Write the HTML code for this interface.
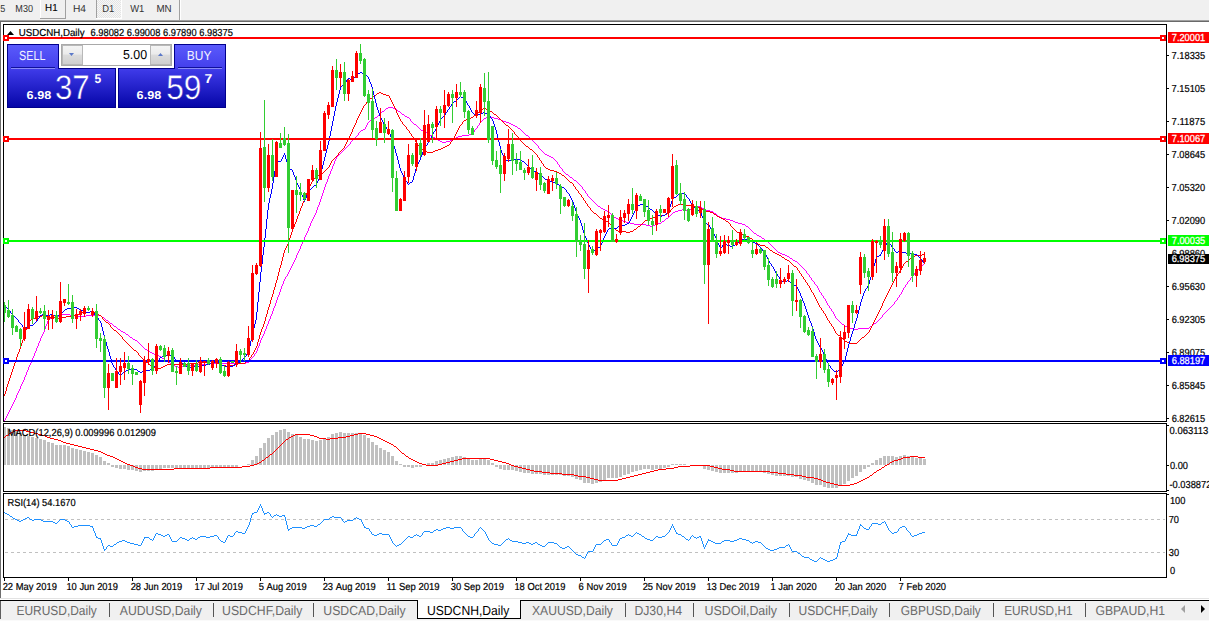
<!DOCTYPE html>
<html><head><meta charset="utf-8"><title>USDCNH,Daily</title><style>html,body{margin:0;padding:0;background:#fff;}
body{width:1209px;height:621px;overflow:hidden;position:relative;}
svg.main{position:absolute;left:0;top:0;}
svg text{white-space:pre;text-rendering:geometricPrecision;}</style></head>
<body>
<svg class="main" width="1209" height="621" viewBox="0 0 1209 621">
<defs>
<pattern id="hatch" width="2" height="2" patternUnits="userSpaceOnUse"><rect width="2" height="2" fill="#f7f7f7"/><rect width="1" height="1" fill="#e4e4e4"/><rect x="1" y="1" width="1" height="1" fill="#e4e4e4"/></pattern>
<linearGradient id="tpg" gradientUnits="userSpaceOnUse" x1="0" y1="45" x2="0" y2="107"><stop offset="0" stop-color="#5a5afc"/><stop offset="0.36" stop-color="#4440ec"/><stop offset="0.42" stop-color="#3c38e6"/><stop offset="1" stop-color="#0606a8"/></linearGradient>
<linearGradient id="spg" x1="0" y1="0" x2="0" y2="1"><stop offset="0" stop-color="#f4f4f4"/><stop offset="0.45" stop-color="#ebebeb"/><stop offset="0.5" stop-color="#dcdcdc"/><stop offset="1" stop-color="#cfcfcf"/></linearGradient>
</defs>
<g shape-rendering="crispEdges">
<rect x="0" y="0" width="1209" height="20" fill="#f0f0f0"/>
<rect x="0" y="20" width="1209" height="1" fill="#a0a0a0"/>
<rect x="0" y="21" width="1209" height="1" fill="#696969"/>
<rect x="40" y="0" width="1" height="19" fill="#ffffff"/>
<rect x="65" y="0" width="1" height="19" fill="#a0a0a0"/>
<rect x="40" y="18" width="26" height="1" fill="#a0a0a0"/>
<rect x="96" y="0" width="1" height="18" fill="#a0a0a0"/>
<rect x="97" y="0" width="24" height="18" fill="url(#hatch)"/>
<rect x="96" y="18" width="26" height="1" fill="#ffffff"/>
<rect x="121" y="0" width="1" height="19" fill="#ffffff"/>
<rect x="179" y="0" width="1" height="20" fill="#a0a0a0"/>
<rect x="180" y="0" width="1" height="20" fill="#ffffff"/>
</g>
<text x="0.34" y="12" font-family="'Liberation Sans', Arial, sans-serif" font-size="10.2" fill="#333333" textLength="5.04" lengthAdjust="spacingAndGlyphs">5</text>
<text x="15.35" y="12" font-family="'Liberation Sans', Arial, sans-serif" font-size="10.2" fill="#333333" textLength="17.70" lengthAdjust="spacingAndGlyphs">M30</text>
<text x="45.10" y="11" font-family="'Liberation Sans', Arial, sans-serif" font-size="10.2" fill="#000" textLength="12.48" lengthAdjust="spacingAndGlyphs" stroke="#000" stroke-width="0.12">H1</text>
<text x="72.96" y="12" font-family="'Liberation Sans', Arial, sans-serif" font-size="10.2" fill="#333333" textLength="13.04" lengthAdjust="spacingAndGlyphs">H4</text>
<text x="102.23" y="12" font-family="'Liberation Sans', Arial, sans-serif" font-size="10.2" fill="#333333" textLength="12.03" lengthAdjust="spacingAndGlyphs">D1</text>
<text x="130.16" y="12" font-family="'Liberation Sans', Arial, sans-serif" font-size="10.2" fill="#333333" textLength="14.10" lengthAdjust="spacingAndGlyphs">W1</text>
<text x="156.40" y="12" font-family="'Liberation Sans', Arial, sans-serif" font-size="10.2" fill="#333333" textLength="15.20" lengthAdjust="spacingAndGlyphs">MN</text>
<g shape-rendering="crispEdges">
<rect x="0" y="22" width="1" height="576" fill="#6e6e6e"/>
<rect x="3" y="24" width="1164" height="1" fill="#000"/>
<rect x="3" y="421" width="1164" height="1" fill="#000"/>
<rect x="3" y="24" width="1" height="398" fill="#000"/>
<rect x="1166" y="24" width="1" height="398" fill="#000"/>
</g>
<path d="M167 361h2v1h-2zM646 225h4v1h-4zM653 225h2v1h-2zM59 315h3v1h-3zM70 315h8v1h-8zM86 315h15v1h-15zM616 218h2v1h-2zM666 218h2v1h-2zM722 218h4v1h-4zM634 224h12v1h-12zM655 224h3v1h-3zM742 224h3v1h-3zM57 316h2v1h-2zM78 316h8v1h-8zM363 129h2v1h-2zM48 319h2v1h-2zM603 209h2v1h-2zM682 209h4v1h-4zM689 209h2v1h-2zM704 209h2v1h-2zM50 318h4v1h-4zM498 119h3v1h-3zM218 362h4v1h-4zM246 362h3v1h-3zM598 206h2v1h-2zM695 206h6v1h-6zM361 130h2v1h-2zM421 130h2v1h-2zM414 124h2v1h-2zM511 124h2v1h-2zM54 317h3v1h-3zM102 317h2v1h-2zM173 365h2v1h-2zM186 365h12v1h-12zM375 117h2v1h-2zM407 117h2v1h-2zM486 117h8v1h-8zM114 326h2v1h-2zM845 326h2v1h-2zM870 326h2v1h-2zM123 332h2v1h-2zM850 328h4v1h-4zM858 328h11v1h-11zM440 141h2v1h-2zM446 141h4v1h-4zM605 210h2v1h-2zM678 210h4v1h-4zM686 210h3v1h-3zM706 210h4v1h-4zM170 363h2v1h-2zM210 363h8v1h-8zM222 363h24v1h-24zM847 327h3v1h-3zM110 323h2v1h-2zM874 323h2v1h-2zM402 114h2v1h-2zM118 329h2v1h-2zM854 329h4v1h-4zM430 135h2v1h-2zM462 135h7v1h-7zM526 135h2v1h-2zM842 324h2v1h-2zM438 140h2v1h-2zM450 140h3v1h-3zM150 352h2v1h-2zM601 208h2v1h-2zM691 208h2v1h-2zM702 208h2v1h-2zM607 211h2v1h-2zM675 211h3v1h-3zM710 211h3v1h-3zM405 116h2v1h-2zM427 133h2v1h-2zM471 133h2v1h-2zM759 236h2v1h-2zM718 216h2v1h-2zM793 260h2v1h-2zM370 120h2v1h-2zM501 120h2v1h-2zM159 356h2v1h-2zM373 118h2v1h-2zM484 118h2v1h-2zM494 118h4v1h-4zM62 314h8v1h-8zM614 217h2v1h-2zM720 217h2v1h-2zM198 364h12v1h-12zM162 358h2v1h-2zM549 156h2v1h-2zM458 136h4v1h-4zM509 123h2v1h-2zM154 354h3v1h-3zM621 220h2v1h-2zM730 220h3v1h-3zM442 142h4v1h-4zM515 126h2v1h-2zM175 366h3v1h-3zM182 366h4v1h-4zM782 254h3v1h-3zM545 154h2v1h-2zM790 258h2v1h-2zM133 339h2v1h-2zM618 219h3v1h-3zM726 219h4v1h-4zM435 138h2v1h-2zM454 138h2v1h-2zM673 212h2v1h-2zM623 221h3v1h-3zM662 221h2v1h-2zM733 221h2v1h-2zM145 349h2v1h-2zM382 111h2v1h-2zM398 111h2v1h-2zM388 107h5v1h-5zM574 180h2v1h-2zM778 252h2v1h-2zM425 132h2v1h-2zM503 121h3v1h-3zM147 350h2v1h-2zM506 122h3v1h-3zM106 320h2v1h-2zM780 253h2v1h-2zM626 222h4v1h-4zM735 222h3v1h-3zM630 223h4v1h-4zM658 223h3v1h-3zM738 223h4v1h-4zM785 255h2v1h-2zM714 213h2v1h-2zM570 177h2v1h-2zM766 241h2v1h-2zM469 134h2v1h-2zM126 334h2v1h-2zM157 355h2v1h-2zM423 131h2v1h-2zM433 137h2v1h-2zM456 137h2v1h-2zM165 360h2v1h-2zM386 108h2v1h-2zM393 108h2v1h-2zM754 233h2v1h-2zM518 128h2v1h-2zM178 367h4v1h-4zM762 238h2v1h-2zM566 174h2v1h-2zM121 331h2v1h-2zM650 226h3v1h-3zM746 226h2v1h-2zM795 261h2v1h-2zM551 157h2v1h-2zM135 340h2v1h-2zM757 235h2v1h-2zM513 125h2v1h-2zM547 155h2v1h-2zM152 353h2v1h-2zM787 256h2v1h-2zM130 337h2v1h-2zM693 207h2v1h-2zM395 109h2v1h-2zM31 361h1v2h-1zM249 361h1v1h-1zM46 324h1v2h-1zM113 325h1v1h-1zM267 324h1v2h-1zM844 325h1v1h-1zM872 325h1v1h-1zM301 244h1v2h-1zM770 244h1v1h-1zM310 223h1v3h-1zM745 225h1v1h-1zM271 314h1v2h-1zM834 314h1v2h-1zM882 315h1v2h-1zM44 329h1v3h-1zM120 330h1v1h-1zM265 329h1v2h-1zM313 217h1v2h-1zM283 281h1v3h-1zM814 282h1v2h-1zM907 282h1v2h-1zM304 237h1v3h-1zM761 237h1v1h-1zM47 321h1v3h-1zM109 322h1v1h-1zM268 321h1v3h-1zM840 322h1v1h-1zM876 322h1v1h-1zM101 316h1v1h-1zM270 316h1v3h-1zM835 316h1v2h-1zM420 129h1v1h-1zM475 129h1v1h-1zM520 129h1v1h-1zM276 300h1v3h-1zM825 299h1v2h-1zM896 300h1v1h-1zM278 295h1v2h-1zM823 296h1v2h-1zM899 295h1v2h-1zM105 319h1v1h-1zM269 319h1v2h-1zM837 319h1v1h-1zM879 319h1v1h-1zM317 207h1v3h-1zM272 311h1v3h-1zM832 311h1v1h-1zM886 311h1v1h-1zM104 318h1v1h-1zM836 318h1v1h-1zM880 318h1v1h-1zM288 272h1v2h-1zM806 271h1v2h-1zM915 272h1v1h-1zM372 119h1v1h-1zM410 119h1v2h-1zM483 119h1v1h-1zM280 289h1v3h-1zM819 290h1v2h-1zM902 290h1v2h-1zM169 362h1v1h-1zM318 205h1v2h-1zM275 303h1v3h-1zM827 303h1v2h-1zM893 304h1v1h-1zM474 130h1v2h-1zM521 130h1v1h-1zM15 398h1v2h-1zM330 171h1v3h-1zM564 172h1v1h-1zM367 123h1v2h-1zM479 123h1v2h-1zM881 317h1v1h-1zM29 365h1v2h-1zM45 326h1v3h-1zM266 326h1v3h-1zM32 358h1v3h-1zM164 359h1v1h-1zM250 359h1v2h-1zM282 284h1v2h-1zM816 285h1v1h-1zM905 285h1v2h-1zM43 332h1v2h-1zM264 331h1v3h-1zM807 273h1v1h-1zM914 273h1v2h-1zM117 328h1v1h-1zM300 246h1v3h-1zM773 247h1v1h-1zM274 306h1v2h-1zM829 306h1v2h-1zM891 306h1v1h-1zM351 141h1v1h-1zM533 141h1v1h-1zM273 308h1v3h-1zM831 309h1v2h-1zM887 310h1v1h-1zM316 210h1v3h-1zM30 363h1v2h-1zM818 288h1v2h-1zM903 288h1v2h-1zM116 327h1v1h-1zM869 327h1v1h-1zM841 323h1v1h-1zM379 114h1v1h-1zM357 135h1v1h-1zM112 324h1v1h-1zM873 324h1v1h-1zM349 144h1v1h-1zM536 144h1v1h-1zM14 400h1v2h-1zM329 174h1v2h-1zM568 175h1v1h-1zM352 140h1v1h-1zM532 140h1v1h-1zM35 351h1v2h-1zM256 351h1v2h-1zM353 139h1v1h-1zM437 139h1v1h-1zM453 139h1v1h-1zM531 139h1v1h-1zM284 279h1v2h-1zM812 280h1v1h-1zM909 280h1v1h-1zM38 343h1v3h-1zM141 345h1v1h-1zM259 343h1v3h-1zM293 262h1v2h-1zM798 263h1v1h-1zM924 263h1v1h-1zM308 228h1v3h-1zM749 228h1v1h-1zM39 341h1v2h-1zM137 341h1v1h-1zM260 340h1v3h-1zM377 116h1v1h-1zM358 133h1v2h-1zM524 133h1v1h-1zM365 127h1v2h-1zM418 127h1v1h-1zM477 126h1v2h-1zM517 127h1v1h-1zM305 235h1v2h-1zM314 215h1v2h-1zM613 216h1v1h-1zM669 216h1v1h-1zM19 389h1v2h-1zM294 260h1v2h-1zM482 120h1v1h-1zM33 356h1v2h-1zM253 356h1v1h-1zM409 118h1v1h-1zM597 205h1v1h-1zM883 314h1v1h-1zM668 217h1v1h-1zM10 408h1v2h-1zM172 364h1v1h-1zM251 358h1v1h-1zM22 382h1v2h-1zM337 156h1v1h-1zM347 146h1v1h-1zM538 146h1v2h-1zM277 297h1v3h-1zM898 297h1v1h-1zM125 333h1v1h-1zM307 231h1v2h-1zM753 232h1v1h-1zM289 270h1v2h-1zM805 270h1v1h-1zM917 270h1v1h-1zM826 301h1v2h-1zM894 302h1v2h-1zM822 295h1v1h-1zM752 231h1v1h-1zM306 233h1v2h-1zM756 234h1v1h-1zM108 321h1v1h-1zM839 321h1v1h-1zM877 321h1v1h-1zM356 136h1v1h-1zM432 136h1v1h-1zM528 136h1v1h-1zM324 187h1v3h-1zM582 187h1v2h-1zM797 262h1v1h-1zM413 123h1v1h-1zM27 370h1v2h-1zM34 353h1v3h-1zM254 354h1v2h-1zM772 246h1v1h-1zM583 189h1v1h-1zM312 219h1v2h-1zM664 220h1v1h-1zM321 196h1v3h-1zM590 198h1v1h-1zM138 342h1v1h-1zM281 286h1v3h-1zM149 351h1v1h-1zM350 142h1v2h-1zM534 142h1v1h-1zM366 125h1v2h-1zM417 126h1v1h-1zM380 113h1v1h-1zM401 113h1v1h-1zM771 245h1v1h-1zM325 184h1v3h-1zM581 186h1v1h-1zM297 253h1v2h-1zM339 154h1v1h-1zM295 258h1v2h-1zM334 161h1v3h-1zM557 162h1v2h-1zM292 264h1v2h-1zM800 265h1v1h-1zM922 265h1v1h-1zM290 268h1v2h-1zM804 269h1v1h-1zM918 269h1v1h-1zM384 110h1v1h-1zM397 110h1v1h-1zM40 338h1v3h-1zM261 338h1v2h-1zM764 239h1v1h-1zM665 219h1v1h-1zM285 277h1v2h-1zM811 278h1v2h-1zM910 278h1v2h-1zM36 348h1v3h-1zM144 348h1v1h-1zM257 348h1v3h-1zM26 372h1v3h-1zM328 176h1v3h-1zM572 178h1v1h-1zM140 344h1v1h-1zM354 138h1v1h-1zM530 138h1v1h-1zM609 212h1v1h-1zM713 212h1v1h-1zM311 221h1v2h-1zM320 199h1v3h-1zM593 201h1v1h-1zM332 166h1v3h-1zM559 165h1v2h-1zM890 307h1v1h-1zM327 179h1v3h-1zM344 149h1v1h-1zM540 149h1v1h-1zM298 251h1v2h-1zM359 132h1v1h-1zM473 132h1v1h-1zM523 132h1v1h-1zM830 308h1v1h-1zM889 308h1v1h-1zM369 121h1v1h-1zM411 121h1v1h-1zM481 121h1v1h-1zM279 292h1v3h-1zM821 293h1v2h-1zM900 294h1v1h-1zM833 312h1v2h-1zM884 313h1v1h-1zM37 346h1v2h-1zM143 347h1v1h-1zM258 346h1v2h-1zM895 301h1v1h-1zM368 122h1v1h-1zM412 122h1v1h-1zM480 122h1v1h-1zM48 320h1v1h-1zM838 320h1v1h-1zM878 320h1v1h-1zM319 202h1v3h-1zM596 204h1v1h-1zM331 169h1v2h-1zM562 169h1v2h-1zM315 213h1v2h-1zM611 214h1v1h-1zM671 214h1v1h-1zM716 214h1v1h-1zM9 410h1v2h-1zM296 255h1v3h-1zM789 257h1v1h-1zM21 384h1v2h-1zM612 215h1v1h-1zM670 215h1v1h-1zM717 215h1v1h-1zM287 274h1v2h-1zM809 275h1v2h-1zM913 275h1v1h-1zM661 222h1v1h-1zM299 249h1v2h-1zM775 249h1v1h-1zM336 157h1v2h-1zM553 158h1v1h-1zM610 213h1v1h-1zM672 213h1v1h-1zM777 251h1v1h-1zM139 343h1v1h-1zM303 240h1v2h-1zM429 134h1v1h-1zM525 134h1v1h-1zM343 150h1v1h-1zM541 150h1v1h-1zM808 274h1v1h-1zM901 292h1v2h-1zM828 305h1v1h-1zM892 305h1v1h-1zM42 334h1v2h-1zM263 334h1v2h-1zM323 190h1v3h-1zM585 191h1v2h-1zM41 336h1v2h-1zM129 336h1v1h-1zM262 336h1v2h-1zM885 312h1v1h-1zM815 284h1v1h-1zM906 284h1v1h-1zM291 266h1v2h-1zM802 267h1v1h-1zM920 267h1v1h-1zM322 193h1v3h-1zM586 193h1v1h-1zM360 131h1v1h-1zM522 131h1v1h-1zM142 346h1v1h-1zM355 137h1v1h-1zM529 137h1v1h-1zM595 203h1v1h-1zM592 200h1v1h-1zM419 128h1v1h-1zM476 128h1v1h-1zM556 161h1v1h-1zM28 367h1v3h-1zM13 402h1v2h-1zM817 286h1v2h-1zM897 298h1v2h-1zM813 281h1v1h-1zM908 281h1v1h-1zM799 264h1v1h-1zM923 264h1v1h-1zM335 159h1v2h-1zM555 160h1v1h-1zM25 375h1v2h-1zM4 420h1v1h-1zM573 179h1v1h-1zM587 194h1v2h-1zM8 412h1v2h-1zM161 357h1v1h-1zM252 357h1v1h-1zM326 182h1v2h-1zM578 183h1v1h-1zM20 386h1v3h-1zM577 182h1v1h-1zM309 226h1v2h-1zM904 287h1v1h-1zM888 309h1v1h-1zM584 190h1v1h-1zM346 147h1v1h-1zM416 125h1v1h-1zM478 125h1v1h-1zM338 155h1v1h-1zM333 164h1v2h-1zM558 164h1v1h-1zM378 115h1v1h-1zM404 115h1v1h-1zM12 404h1v2h-1zM24 377h1v3h-1zM255 353h1v1h-1zM916 271h1v1h-1zM302 242h1v2h-1zM769 243h1v1h-1zM563 171h1v1h-1zM286 276h1v1h-1zM912 276h1v1h-1zM810 277h1v1h-1zM911 277h1v1h-1zM824 298h1v1h-1zM588 196h1v1h-1zM7 414h1v2h-1zM594 202h1v1h-1zM576 181h1v1h-1zM381 112h1v1h-1zM400 112h1v1h-1zM341 152h1v1h-1zM543 152h1v1h-1zM342 151h1v1h-1zM542 151h1v1h-1zM18 391h1v2h-1zM589 197h1v1h-1zM11 406h1v2h-1zM600 207h1v1h-1zM701 207h1v1h-1zM23 380h1v2h-1zM580 185h1v1h-1zM803 268h1v1h-1zM919 268h1v1h-1zM385 109h1v1h-1zM561 168h1v1h-1zM535 143h1v1h-1zM748 227h1v1h-1zM348 145h1v1h-1zM537 145h1v1h-1zM751 230h1v1h-1zM768 242h1v1h-1zM128 335h1v1h-1zM345 148h1v1h-1zM539 148h1v1h-1zM801 266h1v1h-1zM921 266h1v1h-1zM579 184h1v1h-1zM774 248h1v1h-1zM792 259h1v1h-1zM569 176h1v1h-1zM591 199h1v1h-1zM6 416h1v2h-1zM820 292h1v1h-1zM765 240h1v1h-1zM560 167h1v1h-1zM750 229h1v1h-1zM340 153h1v1h-1zM544 153h1v1h-1zM17 393h1v2h-1zM5 418h1v2h-1zM554 159h1v1h-1zM16 395h1v3h-1zM776 250h1v1h-1zM132 338h1v1h-1zM565 173h1v1h-1z" fill="#ff00ff" shape-rendering="crispEdges"/>
<path d="M594 213h2v1h-2zM667 213h2v1h-2zM190 363h8v1h-8zM217 363h2v1h-2zM238 363h7v1h-7zM167 364h23v1h-23zM219 364h3v1h-3zM234 364h4v1h-4zM838 335h2v1h-2zM862 337h2v1h-2zM494 114h2v1h-2zM165 365h2v1h-2zM222 365h4v1h-4zM230 365h4v1h-4zM466 119h3v1h-3zM634 229h2v1h-2zM777 254h2v1h-2zM922 254h3v1h-3zM38 316h4v1h-4zM46 316h4v1h-4zM66 316h8v1h-8zM82 312h8v1h-8zM93 312h2v1h-2zM134 350h2v1h-2zM702 209h2v1h-2zM35 317h3v1h-3zM50 317h8v1h-8zM62 317h4v1h-4zM77 314h2v1h-2zM97 314h2v1h-2zM152 367h6v1h-6zM161 367h2v1h-2zM374 95h2v1h-2zM386 95h3v1h-3zM616 230h2v1h-2zM447 145h2v1h-2zM471 117h2v1h-2zM469 118h2v1h-2zM481 109h2v1h-2zM486 109h3v1h-3zM676 205h2v1h-2zM686 205h8v1h-8zM794 266h2v1h-2zM90 311h3v1h-3zM548 169h2v1h-2zM316 175h5v1h-5zM562 175h2v1h-2zM785 259h2v1h-2zM704 210h2v1h-2zM754 241h2v1h-2zM674 206h2v1h-2zM694 206h4v1h-4zM606 221h2v1h-2zM726 221h2v1h-2zM782 257h2v1h-2zM550 170h4v1h-4zM163 366h2v1h-2zM226 366h4v1h-4zM146 362h2v1h-2zM198 362h12v1h-12zM214 362h3v1h-3zM490 111h2v1h-2zM698 207h3v1h-3zM760 245h5v1h-5zM658 215h7v1h-7zM600 218h2v1h-2zM650 218h3v1h-3zM721 218h2v1h-2zM443 147h2v1h-2zM618 231h8v1h-8zM630 231h3v1h-3zM770 250h2v1h-2zM678 204h8v1h-8zM602 219h3v1h-3zM647 219h3v1h-3zM723 219h2v1h-2zM106 322h2v1h-2zM546 168h2v1h-2zM210 361h4v1h-4zM246 361h2v1h-2zM665 214h2v1h-2zM714 214h2v1h-2zM464 120h2v1h-2zM377 93h2v1h-2zM381 93h2v1h-2zM42 315h4v1h-4zM74 315h3v1h-3zM99 315h2v1h-2zM710 212h3v1h-3zM626 232h4v1h-4zM737 232h2v1h-2zM33 318h2v1h-2zM58 318h4v1h-4zM773 252h2v1h-2zM557 172h2v1h-2zM766 247h2v1h-2zM114 330h2v1h-2zM850 343h7v1h-7zM653 217h2v1h-2zM719 217h2v1h-2zM427 152h6v1h-6zM421 149h2v1h-2zM438 149h3v1h-3zM530 149h2v1h-2zM554 171h3v1h-3zM79 313h3v1h-3zM95 313h2v1h-2zM31 319h2v1h-2zM474 115h2v1h-2zM779 255h2v1h-2zM915 255h7v1h-7zM425 151h2v1h-2zM433 151h2v1h-2zM423 150h2v1h-2zM435 150h3v1h-3zM847 342h3v1h-3zM370 98h2v1h-2zM441 148h2v1h-2zM787 260h2v1h-2zM743 235h3v1h-3zM559 173h2v1h-2zM913 256h2v1h-2zM570 182h2v1h-2zM906 261h2v1h-2zM158 368h3v1h-3zM383 94h3v1h-3zM739 233h2v1h-2zM645 220h2v1h-2zM29 320h2v1h-2zM445 146h2v1h-2zM526 146h2v1h-2zM379 92h2v1h-2zM750 238h2v1h-2zM638 226h2v1h-2zM910 258h2v1h-2zM845 341h2v1h-2zM655 216h3v1h-3zM717 216h2v1h-2zM746 236h3v1h-3zM506 125h2v1h-2zM775 253h2v1h-2zM706 211h4v1h-4zM741 234h2v1h-2zM758 244h2v1h-2zM483 108h3v1h-3zM25 330h1v4h-1zM116 331h1v1h-1zM261 329h1v3h-1zM835 331h1v2h-1zM869 330h1v2h-1zM315 176h1v2h-1zM565 177h1v1h-1zM299 211h1v3h-1zM713 213h1v1h-1zM278 272h1v4h-1zM801 274h1v2h-1zM897 274h1v2h-1zM14 363h1v3h-1zM148 363h1v1h-1zM149 364h1v1h-1zM12 369h1v3h-1zM24 334h1v3h-1zM120 335h1v1h-1zM259 335h1v4h-1zM865 335h1v1h-1zM277 276h1v4h-1zM803 277h1v2h-1zM895 277h1v2h-1zM27 323h1v4h-1zM110 325h1v2h-1zM263 324h1v3h-1zM831 324h1v2h-1zM872 324h1v2h-1zM271 297h1v3h-1zM816 299h1v2h-1zM884 299h1v2h-1zM338 153h1v2h-1zM535 153h1v1h-1zM273 290h1v4h-1zM812 292h1v1h-1zM888 291h1v2h-1zM23 337h1v3h-1zM122 337h1v2h-1zM841 337h1v1h-1zM359 114h1v2h-1zM397 113h1v2h-1zM476 114h1v1h-1zM119 334h1v1h-1zM260 332h1v3h-1zM837 334h1v1h-1zM866 334h1v1h-1zM348 138h1v2h-1zM414 139h1v1h-1zM453 138h1v2h-1zM519 139h1v1h-1zM366 102h1v2h-1zM392 102h1v2h-1zM16 357h1v3h-1zM142 358h1v1h-1zM249 358h1v2h-1zM150 365h1v1h-1zM357 118h1v2h-1zM400 119h1v2h-1zM500 119h1v1h-1zM292 229h1v3h-1zM615 229h1v1h-1zM734 229h1v1h-1zM283 253h1v4h-1zM101 316h1v1h-1zM266 314h1v3h-1zM826 316h1v2h-1zM876 316h1v2h-1zM276 280h1v3h-1zM805 280h1v2h-1zM894 279h1v2h-1zM267 310h1v4h-1zM823 311h1v2h-1zM878 312h1v2h-1zM19 349h1v3h-1zM254 350h1v2h-1zM842 338h1v1h-1zM861 338h1v1h-1zM300 208h1v3h-1zM590 208h1v2h-1zM671 209h1v1h-1zM279 268h1v4h-1zM798 270h1v1h-1zM900 270h1v1h-1zM102 317h1v2h-1zM265 317h1v4h-1zM825 314h1v2h-1zM877 314h1v2h-1zM13 366h1v3h-1zM330 163h1v2h-1zM542 163h1v1h-1zM353 127h1v2h-1zM406 127h1v2h-1zM458 128h1v2h-1zM510 128h1v1h-1zM7 384h1v3h-1zM333 159h1v1h-1zM539 158h1v2h-1zM633 230h1v1h-1zM735 230h1v1h-1zM275 283h1v4h-1zM807 283h1v2h-1zM892 283h1v2h-1zM117 332h1v1h-1zM868 332h1v1h-1zM310 184h1v2h-1zM573 184h1v2h-1zM285 248h1v2h-1zM769 249h1v1h-1zM11 372h1v3h-1zM373 96h1v1h-1zM389 96h1v2h-1zM813 293h1v2h-1zM887 293h1v2h-1zM345 144h1v2h-1zM418 145h1v1h-1zM525 145h1v1h-1zM270 300h1v4h-1zM817 301h1v2h-1zM883 301h1v2h-1zM304 198h1v3h-1zM583 198h1v2h-1zM369 99h1v1h-1zM390 98h1v2h-1zM280 265h1v3h-1zM793 265h1v1h-1zM903 264h1v2h-1zM358 116h1v2h-1zM399 117h1v2h-1zM498 117h1v1h-1zM499 118h1v1h-1zM108 323h1v1h-1zM264 321h1v3h-1zM830 323h1v1h-1zM873 322h1v2h-1zM355 123h1v2h-1zM402 122h1v2h-1zM462 122h1v2h-1zM504 123h1v1h-1zM362 108h1v2h-1zM395 108h1v2h-1zM302 203h1v3h-1zM587 204h1v2h-1zM26 327h1v3h-1zM112 328h1v1h-1zM262 327h1v2h-1zM833 327h1v2h-1zM870 328h1v2h-1zM350 134h1v2h-1zM411 134h1v2h-1zM455 134h1v2h-1zM516 135h1v1h-1zM902 266h1v2h-1zM586 203h1v1h-1zM879 310h1v2h-1zM329 165h1v2h-1zM544 166h1v1h-1zM352 129h1v3h-1zM409 131h1v2h-1zM457 130h1v2h-1zM513 131h1v1h-1zM293 227h1v2h-1zM614 228h1v1h-1zM636 228h1v1h-1zM733 228h1v1h-1zM326 169h1v1h-1zM268 307h1v3h-1zM821 308h1v2h-1zM880 308h1v2h-1zM403 124h1v1h-1zM461 124h1v1h-1zM505 124h1v1h-1zM113 329h1v1h-1zM834 329h1v2h-1zM811 290h1v2h-1zM282 257h1v4h-1zM909 259h1v1h-1zM591 210h1v1h-1zM670 210h1v2h-1zM815 297h1v2h-1zM885 297h1v2h-1zM288 241h1v3h-1zM301 206h1v2h-1zM588 206h1v1h-1zM296 219h1v3h-1zM644 221h1v1h-1zM912 257h1v1h-1zM360 112h1v2h-1zM396 110h1v3h-1zM478 112h1v1h-1zM492 112h1v1h-1zM325 170h1v1h-1zM417 143h1v2h-1zM449 144h1v1h-1zM524 144h1v1h-1zM121 336h1v1h-1zM840 336h1v1h-1zM864 336h1v1h-1zM22 340h1v3h-1zM124 340h1v1h-1zM258 339h1v3h-1zM844 340h1v1h-1zM859 340h1v1h-1zM151 366h1v1h-1zM808 285h1v1h-1zM891 285h1v2h-1zM15 360h1v3h-1zM245 362h1v1h-1zM361 110h1v2h-1zM479 111h1v1h-1zM8 381h1v3h-1zM20 346h1v3h-1zM130 346h1v1h-1zM256 346h1v2h-1zM589 207h1v1h-1zM673 207h1v1h-1zM346 142h1v2h-1zM450 142h1v2h-1zM523 143h1v1h-1zM287 244h1v2h-1zM298 214h1v2h-1zM597 215h1v1h-1zM716 215h1v1h-1zM297 216h1v3h-1zM109 324h1v1h-1zM305 195h1v3h-1zM581 195h1v2h-1zM344 146h1v2h-1zM419 146h1v2h-1zM528 147h1v1h-1zM413 137h1v2h-1zM518 137h1v2h-1zM328 167h1v1h-1zM545 167h1v1h-1zM736 231h1v1h-1zM284 250h1v3h-1zM141 357h1v1h-1zM250 357h1v1h-1zM28 321h1v2h-1zM829 321h1v2h-1zM327 168h1v1h-1zM145 361h1v1h-1zM459 126h1v2h-1zM509 127h1v1h-1zM596 214h1v1h-1zM133 349h1v1h-1zM255 348h1v2h-1zM582 197h1v1h-1zM356 120h1v3h-1zM501 120h1v1h-1zM295 222h1v2h-1zM608 222h1v1h-1zM643 222h1v1h-1zM728 222h1v1h-1zM768 248h1v1h-1zM398 115h1v2h-1zM473 116h1v1h-1zM497 116h1v1h-1zM564 176h1v1h-1zM593 212h1v1h-1zM669 212h1v1h-1zM291 232h1v3h-1zM503 122h1v1h-1zM111 327h1v1h-1zM871 326h1v2h-1zM889 289h1v2h-1zM802 276h1v1h-1zM896 276h1v1h-1zM515 134h1v1h-1zM827 318h1v2h-1zM875 318h1v2h-1zM799 271h1v2h-1zM899 271h1v2h-1zM543 164h1v2h-1zM408 130h1v1h-1zM512 130h1v1h-1zM272 294h1v3h-1zM814 295h1v2h-1zM886 295h1v2h-1zM349 136h1v2h-1zM454 136h1v2h-1zM820 307h1v1h-1zM881 306h1v2h-1zM416 142h1v1h-1zM522 142h1v1h-1zM323 172h1v1h-1zM286 246h1v2h-1zM21 343h1v3h-1zM127 343h1v1h-1zM257 342h1v4h-1zM599 217h1v1h-1zM339 152h1v1h-1zM534 152h1v1h-1zM342 149h1v1h-1zM324 171h1v1h-1zM824 313h1v1h-1zM103 319h1v1h-1zM313 179h1v2h-1zM568 180h1v1h-1zM347 140h1v2h-1zM415 140h1v2h-1zM451 141h1v1h-1zM521 141h1v1h-1zM496 115h1v1h-1zM281 261h1v4h-1zM791 263h1v1h-1zM904 263h1v1h-1zM337 155h1v1h-1zM537 155h1v2h-1zM340 151h1v1h-1zM533 151h1v1h-1zM790 262h1v1h-1zM905 262h1v1h-1zM144 360h1v1h-1zM248 360h1v1h-1zM341 150h1v1h-1zM532 150h1v1h-1zM126 342h1v1h-1zM857 342h1v1h-1zM354 125h1v2h-1zM405 126h1v1h-1zM508 126h1v1h-1zM756 242h1v1h-1zM309 186h1v2h-1zM575 187h1v2h-1zM6 387h1v4h-1zM809 286h1v2h-1zM832 326h1v1h-1zM10 375h1v3h-1zM343 148h1v1h-1zM420 148h1v1h-1zM529 148h1v1h-1zM772 251h1v1h-1zM407 129h1v1h-1zM511 129h1v1h-1zM908 260h1v1h-1zM290 235h1v3h-1zM322 173h1v1h-1zM781 256h1v1h-1zM118 333h1v1h-1zM836 333h1v1h-1zM867 333h1v1h-1zM311 182h1v2h-1zM789 261h1v1h-1zM321 174h1v1h-1zM561 174h1v1h-1zM303 201h1v2h-1zM585 201h1v2h-1zM792 264h1v1h-1zM567 179h1v1h-1zM822 310h1v1h-1zM401 121h1v1h-1zM463 121h1v1h-1zM502 121h1v1h-1zM412 136h1v1h-1zM517 136h1v1h-1zM376 94h1v1h-1zM796 267h1v1h-1zM129 345h1v1h-1zM605 220h1v1h-1zM725 220h1v1h-1zM104 320h1v1h-1zM828 320h1v1h-1zM874 320h1v2h-1zM672 208h1v1h-1zM701 208h1v1h-1zM574 186h1v1h-1zM332 160h1v1h-1zM540 160h1v1h-1zM274 287h1v3h-1zM810 288h1v2h-1zM890 287h1v2h-1zM609 223h1v1h-1zM642 223h1v1h-1zM729 223h1v1h-1zM18 352h1v2h-1zM137 352h1v1h-1zM253 352h1v2h-1zM289 238h1v3h-1zM818 303h1v2h-1zM882 303h1v3h-1zM336 156h1v1h-1zM123 339h1v1h-1zM843 339h1v1h-1zM860 339h1v1h-1zM351 132h1v2h-1zM410 133h1v1h-1zM456 132h1v2h-1zM514 132h1v2h-1zM294 224h1v3h-1zM612 226h1v1h-1zM731 226h1v1h-1zM784 258h1v1h-1zM125 341h1v1h-1zM858 341h1v1h-1zM363 106h1v2h-1zM394 106h1v2h-1zM308 188h1v2h-1zM576 189h1v1h-1zM9 378h1v3h-1zM143 359h1v1h-1zM584 200h1v1h-1zM598 216h1v1h-1zM452 140h1v1h-1zM520 140h1v1h-1zM314 178h1v1h-1zM566 178h1v1h-1zM404 125h1v1h-1zM460 125h1v1h-1zM307 190h1v3h-1zM578 191h1v2h-1zM105 321h1v1h-1zM477 113h1v1h-1zM493 113h1v1h-1zM5 391h1v3h-1zM592 211h1v1h-1zM136 351h1v1h-1zM800 273h1v1h-1zM898 273h1v1h-1zM269 304h1v3h-1zM17 354h1v3h-1zM138 353h1v2h-1zM252 354h1v1h-1zM128 344h1v1h-1zM611 225h1v1h-1zM640 225h1v1h-1zM730 224h1v2h-1zM757 243h1v1h-1zM819 305h1v2h-1zM804 279h1v1h-1zM536 154h1v1h-1zM131 347h1v1h-1zM480 110h1v1h-1zM489 110h1v1h-1zM749 237h1v1h-1zM765 246h1v1h-1zM753 240h1v1h-1zM306 193h1v2h-1zM580 194h1v1h-1zM797 268h1v2h-1zM901 268h1v2h-1zM334 158h1v1h-1zM4 394h1v2h-1zM610 224h1v1h-1zM641 224h1v1h-1zM365 104h1v1h-1zM393 104h1v2h-1zM572 183h1v1h-1zM752 239h1v1h-1zM613 227h1v1h-1zM637 227h1v1h-1zM732 227h1v1h-1zM579 193h1v1h-1zM132 348h1v1h-1zM335 157h1v1h-1zM538 157h1v1h-1zM140 356h1v1h-1zM251 355h1v2h-1zM312 181h1v1h-1zM569 181h1v1h-1zM331 161h1v2h-1zM541 161h1v2h-1zM368 100h1v1h-1zM391 100h1v2h-1zM806 282h1v1h-1zM893 281h1v2h-1zM367 101h1v1h-1zM372 97h1v1h-1zM139 355h1v1h-1zM364 105h1v1h-1zM577 190h1v1h-1z" fill="#ff0000" shape-rendering="crispEdges"/>
<path d="M177 361h2v1h-2zM215 361h2v1h-2zM896 252h2v1h-2zM902 252h4v1h-4zM753 242h2v1h-2zM545 179h2v1h-2zM131 368h3v1h-3zM188 368h2v1h-2zM638 205h2v1h-2zM126 370h3v1h-3zM146 370h4v1h-4zM55 316h2v1h-2zM680 193h5v1h-5zM595 249h2v1h-2zM727 245h3v1h-3zM733 245h2v1h-2zM898 251h4v1h-4zM598 247h2v1h-2zM720 247h2v1h-2zM730 246h3v1h-3zM755 243h2v1h-2zM742 239h7v1h-7zM474 114h2v1h-2zM478 114h3v1h-3zM487 114h2v1h-2zM534 171h3v1h-3zM181 363h2v1h-2zM210 363h3v1h-3zM219 363h2v1h-2zM129 369h2v1h-2zM134 369h3v1h-3zM150 369h3v1h-3zM550 181h3v1h-3zM74 307h3v1h-3zM81 310h2v1h-2zM167 354h3v1h-3zM625 224h2v1h-2zM707 224h2v1h-2zM276 161h5v1h-5zM522 161h2v1h-2zM183 364h2v1h-2zM206 364h4v1h-4zM235 364h2v1h-2zM751 241h2v1h-2zM620 225h5v1h-5zM481 113h2v1h-2zM485 113h2v1h-2zM538 173h2v1h-2zM547 180h3v1h-3zM83 311h3v1h-3zM90 311h3v1h-3zM476 115h2v1h-2zM658 215h2v1h-2zM662 215h3v1h-3zM124 371h2v1h-2zM138 371h2v1h-2zM142 371h4v1h-4zM834 371h2v1h-2zM65 309h2v1h-2zM79 309h2v1h-2zM725 244h2v1h-2zM735 244h2v1h-2zM27 326h3v1h-3zM140 372h2v1h-2zM30 325h3v1h-3zM40 315h2v1h-2zM46 315h4v1h-4zM53 315h2v1h-2zM57 315h2v1h-2zM202 365h4v1h-4zM222 365h2v1h-2zM233 365h2v1h-2zM740 240h2v1h-2zM749 240h2v1h-2zM678 194h2v1h-2zM463 98h2v1h-2zM25 327h2v1h-2zM67 308h7v1h-7zM77 308h2v1h-2zM410 182h2v1h-2zM553 182h2v1h-2zM660 216h2v1h-2zM179 362h2v1h-2zM213 362h2v1h-2zM217 362h2v1h-2zM238 362h2v1h-2zM640 204h5v1h-5zM627 223h2v1h-2zM705 223h2v1h-2zM782 281h2v1h-2zM785 281h2v1h-2zM190 367h4v1h-4zM86 312h4v1h-4zM609 228h2v1h-2zM614 228h3v1h-3zM611 227h3v1h-3zM350 79h3v1h-3zM506 160h8v1h-8zM194 366h8v1h-8zM224 366h9v1h-9zM42 314h4v1h-4zM50 314h3v1h-3zM59 314h2v1h-2zM593 250h2v1h-2zM162 356h3v1h-3zM160 357h2v1h-2zM504 159h2v1h-2zM514 159h7v1h-7zM906 253h8v1h-8zM646 206h2v1h-2zM877 256h2v1h-2zM532 170h2v1h-2zM697 210h2v1h-2zM674 197h2v1h-2zM787 280h2v1h-2zM358 73h2v1h-2zM362 73h3v1h-3zM165 355h2v1h-2zM170 355h3v1h-3zM454 101h2v1h-2zM654 212h2v1h-2zM650 209h2v1h-2zM483 112h2v1h-2zM618 226h2v1h-2zM699 211h2v1h-2zM794 285h2v1h-2zM562 187h2v1h-2zM557 184h2v1h-2zM790 282h2v1h-2zM914 254h3v1h-3zM314 185h2v1h-2zM559 185h2v1h-2zM879 255h2v1h-2zM360 72h2v1h-2zM290 169h2v1h-2zM555 183h2v1h-2zM348 78h2v1h-2zM461 97h2v1h-2zM331 126h1v5h-1zM385 126h1v1h-1zM437 125h1v2h-1zM494 124h1v3h-1zM111 359h1v4h-1zM157 361h1v2h-1zM240 361h1v1h-1zM827 361h1v2h-1zM844 360h1v2h-1zM263 247h1v8h-1zM764 252h1v1h-1zM881 252h1v2h-1zM329 136h1v5h-1zM391 137h1v2h-1zM431 136h1v2h-1zM497 134h1v4h-1zM264 238h1v9h-1zM587 241h1v2h-1zM602 240h1v3h-1zM717 241h1v2h-1zM738 242h1v1h-1zM887 242h1v1h-1zM889 242h1v2h-1zM257 302h1v10h-1zM804 303h1v3h-1zM860 302h1v4h-1zM102 327h1v4h-1zM253 328h1v4h-1zM813 329h1v3h-1zM853 328h1v3h-1zM270 194h1v4h-1zM302 195h1v2h-1zM306 195h1v3h-1zM570 196h1v2h-1zM676 196h1v1h-1zM686 195h1v2h-1zM273 177h1v6h-1zM295 177h1v3h-1zM318 179h1v2h-1zM405 179h1v2h-1zM413 176h1v4h-1zM269 198h1v5h-1zM303 197h1v3h-1zM305 198h1v2h-1zM571 198h1v2h-1zM672 199h1v2h-1zM689 199h1v2h-1zM104 335h1v4h-1zM251 337h1v4h-1zM815 336h1v3h-1zM850 337h1v4h-1zM115 368h1v2h-1zM153 367h1v2h-1zM831 368h1v1h-1zM840 368h1v1h-1zM258 292h1v10h-1zM800 293h1v3h-1zM863 293h1v3h-1zM268 203h1v7h-1zM574 205h1v3h-1zM645 205h1v1h-1zM670 204h1v3h-1zM692 205h1v1h-1zM260 272h1v10h-1zM778 276h1v1h-1zM871 273h1v4h-1zM283 155h1v2h-1zM285 155h1v4h-1zM325 153h1v4h-1zM396 153h1v3h-1zM421 155h1v2h-1zM503 155h1v3h-1zM116 370h1v1h-1zM137 370h1v1h-1zM833 370h1v1h-1zM838 370h1v1h-1zM801 296h1v2h-1zM862 296h1v3h-1zM14 316h1v1h-1zM39 316h1v2h-1zM96 316h1v1h-1zM256 312h1v8h-1zM808 315h1v3h-1zM857 314h1v4h-1zM267 210h1v9h-1zM579 218h1v2h-1zM631 217h1v2h-1zM703 218h1v3h-1zM265 229h1v9h-1zM582 226h1v4h-1zM608 229h1v1h-1zM711 229h1v2h-1zM271 189h1v5h-1zM301 192h1v3h-1zM307 193h1v2h-1zM568 193h1v1h-1zM591 249h1v2h-1zM762 249h1v2h-1zM883 248h1v2h-1zM894 249h1v2h-1zM274 171h1v6h-1zM294 175h1v2h-1zM320 173h1v4h-1zM403 175h1v2h-1zM542 176h1v1h-1zM589 245h1v2h-1zM600 245h1v2h-1zM719 245h1v2h-1zM722 245h1v2h-1zM758 245h1v1h-1zM885 245h1v1h-1zM891 245h1v2h-1zM336 102h1v4h-1zM376 103h1v4h-1zM451 104h1v2h-1zM467 103h1v2h-1zM592 251h1v1h-1zM763 251h1v1h-1zM882 250h1v2h-1zM895 251h1v1h-1zM590 247h1v2h-1zM760 247h1v1h-1zM884 246h1v2h-1zM892 247h1v1h-1zM330 131h1v5h-1zM390 134h1v3h-1zM432 134h1v2h-1zM276 162h1v3h-1zM287 162h1v4h-1zM323 161h1v4h-1zM399 164h1v4h-1zM417 164h1v2h-1zM526 164h1v1h-1zM261 264h1v8h-1zM771 264h1v2h-1zM874 263h1v3h-1zM759 246h1v1h-1zM588 243h1v2h-1zM601 243h1v2h-1zM718 243h1v2h-1zM724 243h1v1h-1zM737 243h1v1h-1zM886 243h1v2h-1zM586 238h1v3h-1zM603 238h1v2h-1zM716 238h1v3h-1zM334 111h1v5h-1zM379 113h1v3h-1zM445 113h1v2h-1zM335 106h1v5h-1zM378 110h1v3h-1zM447 110h1v2h-1zM471 110h1v2h-1zM597 248h1v1h-1zM720 248h1v1h-1zM761 248h1v1h-1zM893 248h1v1h-1zM20 323h1v1h-1zM34 323h1v1h-1zM101 323h1v4h-1zM255 320h1v4h-1zM811 323h1v3h-1zM855 321h1v3h-1zM292 170h1v2h-1zM321 169h1v4h-1zM401 171h1v2h-1zM415 169h1v4h-1zM112 363h1v2h-1zM156 363h1v1h-1zM237 363h1v1h-1zM828 363h1v2h-1zM843 362h1v2h-1zM103 331h1v4h-1zM252 332h1v5h-1zM814 332h1v4h-1zM852 331h1v3h-1zM851 334h1v3h-1zM636 207h1v2h-1zM648 207h1v1h-1zM669 207h1v3h-1zM694 207h1v1h-1zM802 298h1v3h-1zM861 299h1v3h-1zM832 369h1v1h-1zM839 369h1v1h-1zM293 172h1v3h-1zM537 172h1v1h-1zM333 116h1v5h-1zM380 116h1v2h-1zM442 117h1v1h-1zM490 116h1v2h-1zM296 180h1v3h-1zM317 181h1v2h-1zM406 181h1v1h-1zM412 180h1v2h-1zM6 307h1v1h-1zM805 306h1v3h-1zM859 306h1v4h-1zM319 177h1v2h-1zM404 177h1v2h-1zM543 177h1v1h-1zM9 310h1v1h-1zM64 310h1v1h-1zM806 309h1v3h-1zM858 310h1v4h-1zM109 352h1v4h-1zM246 354h1v2h-1zM824 354h1v3h-1zM846 352h1v4h-1zM386 127h1v2h-1zM436 127h1v2h-1zM495 127h1v3h-1zM266 219h1v10h-1zM581 223h1v3h-1zM262 255h1v9h-1zM767 257h1v2h-1zM876 257h1v2h-1zM919 257h1v1h-1zM387 129h1v1h-1zM435 129h1v2h-1zM286 159h1v3h-1zM398 160h1v4h-1zM419 160h1v2h-1zM284 153h1v2h-1zM422 152h1v3h-1zM502 153h1v2h-1zM327 145h1v4h-1zM393 142h1v4h-1zM426 145h1v1h-1zM499 142h1v4h-1zM17 319h1v1h-1zM37 319h1v2h-1zM98 318h1v2h-1zM809 318h1v3h-1zM856 318h1v3h-1zM418 162h1v2h-1zM525 163h1v1h-1zM18 320h1v2h-1zM99 320h1v1h-1zM108 349h1v3h-1zM248 350h1v3h-1zM822 350h1v2h-1zM847 348h1v4h-1zM673 198h1v1h-1zM688 198h1v1h-1zM155 364h1v2h-1zM221 364h1v1h-1zM842 364h1v2h-1zM739 241h1v1h-1zM888 241h1v1h-1zM709 225h1v2h-1zM473 113h1v1h-1zM569 194h1v2h-1zM677 195h1v1h-1zM275 165h1v6h-1zM288 166h1v2h-1zM322 165h1v4h-1zM416 166h1v3h-1zM528 166h1v1h-1zM583 230h1v3h-1zM607 230h1v2h-1zM773 267h1v2h-1zM873 266h1v4h-1zM529 167h1v1h-1zM402 173h1v2h-1zM414 173h1v3h-1zM585 236h1v2h-1zM604 236h1v2h-1zM715 236h1v2h-1zM105 339h1v3h-1zM816 339h1v2h-1zM10 311h1v2h-1zM63 311h1v1h-1zM250 341h1v5h-1zM817 341h1v2h-1zM849 341h1v3h-1zM444 115h1v1h-1zM489 115h1v1h-1zM780 279h1v1h-1zM870 277h1v3h-1zM799 291h1v2h-1zM864 291h1v2h-1zM577 214h1v2h-1zM632 215h1v2h-1zM701 213h1v3h-1zM382 120h1v2h-1zM440 119h1v2h-1zM492 119h1v2h-1zM117 371h1v1h-1zM837 371h1v1h-1zM332 121h1v5h-1zM384 124h1v2h-1zM438 123h1v2h-1zM259 282h1v10h-1zM793 284h1v1h-1zM868 284h1v2h-1zM8 309h1v1h-1zM430 138h1v2h-1zM498 138h1v4h-1zM723 244h1v1h-1zM757 244h1v1h-1zM890 244h1v1h-1zM19 322h1v1h-1zM35 322h1v1h-1zM100 321h1v2h-1zM810 321h1v2h-1zM106 342h1v4h-1zM22 325h1v2h-1zM254 324h1v4h-1zM812 326h1v3h-1zM854 324h1v4h-1zM247 353h1v1h-1zM823 352h1v2h-1zM340 87h1v3h-1zM372 87h1v4h-1zM450 106h1v1h-1zM469 106h1v2h-1zM337 98h1v4h-1zM375 99h1v4h-1zM457 99h1v1h-1zM465 99h1v2h-1zM118 372h1v2h-1zM123 372h1v1h-1zM836 372h1v1h-1zM584 233h1v3h-1zM606 232h1v2h-1zM713 232h1v2h-1zM326 149h1v4h-1zM395 149h1v4h-1zM501 150h1v3h-1zM13 315h1v1h-1zM95 315h1v1h-1zM120 375h1v1h-1zM328 141h1v4h-1zM427 143h1v2h-1zM113 365h1v2h-1zM185 365h1v1h-1zM829 365h1v1h-1zM428 142h1v1h-1zM388 130h1v2h-1zM434 131h1v1h-1zM496 130h1v4h-1zM685 194h1v1h-1zM389 132h1v2h-1zM433 132h1v2h-1zM797 287h1v2h-1zM867 286h1v2h-1zM796 286h1v1h-1zM356 75h1v1h-1zM366 75h1v1h-1zM24 328h1v1h-1zM374 95h1v4h-1zM458 98h1v1h-1zM21 324h1v1h-1zM33 324h1v1h-1zM23 327h1v1h-1zM7 308h1v1h-1zM407 182h1v2h-1zM540 174h1v1h-1zM578 216h1v2h-1zM702 216h1v2h-1zM573 202h1v3h-1zM691 203h1v2h-1zM576 211h1v3h-1zM633 213h1v2h-1zM656 213h1v1h-1zM666 213h1v1h-1zM394 146h1v3h-1zM425 146h1v2h-1zM500 146h1v4h-1zM789 281h1v1h-1zM869 280h1v4h-1zM114 367h1v1h-1zM187 367h1v1h-1zM830 366h1v2h-1zM841 366h1v2h-1zM377 107h1v3h-1zM449 107h1v2h-1zM470 108h1v2h-1zM158 360h1v1h-1zM176 360h1v1h-1zM241 360h1v1h-1zM826 359h1v2h-1zM107 346h1v3h-1zM249 346h1v4h-1zM821 348h1v2h-1zM62 312h1v1h-1zM93 312h1v1h-1zM807 312h1v3h-1zM710 227h1v2h-1zM272 183h1v6h-1zM299 187h1v2h-1zM311 188h1v1h-1zM564 188h1v1h-1zM524 162h1v1h-1zM768 259h1v2h-1zM875 259h1v4h-1zM921 259h1v1h-1zM617 227h1v1h-1zM774 269h1v2h-1zM423 150h1v2h-1zM347 79h1v1h-1zM369 79h1v3h-1zM281 159h1v2h-1zM324 157h1v4h-1zM521 160h1v1h-1zM5 306h1v1h-1zM154 366h1v1h-1zM186 366h1v1h-1zM12 314h1v1h-1zM94 313h1v2h-1zM424 148h1v2h-1zM16 318h1v1h-1zM38 318h1v1h-1zM580 220h1v3h-1zM630 219h1v2h-1zM629 221h1v2h-1zM704 221h1v2h-1zM110 356h1v3h-1zM173 356h1v1h-1zM245 356h1v1h-1zM845 356h1v4h-1zM11 313h1v1h-1zM61 313h1v1h-1zM383 122h1v2h-1zM493 121h1v3h-1zM527 165h1v1h-1zM174 357h1v2h-1zM244 357h1v1h-1zM825 357h1v2h-1zM772 266h1v1h-1zM346 80h1v2h-1zM803 301h1v2h-1zM657 214h1v1h-1zM665 214h1v1h-1zM779 277h1v2h-1zM381 118h1v2h-1zM397 156h1v4h-1zM420 157h1v3h-1zM872 270h1v3h-1zM765 253h1v2h-1zM637 206h1v1h-1zM693 206h1v1h-1zM36 321h1v1h-1zM766 255h1v2h-1zM918 256h1v1h-1zM400 168h1v3h-1zM575 208h1v3h-1zM635 209h1v2h-1zM652 210h1v1h-1zM668 210h1v2h-1zM687 197h1v1h-1zM392 139h1v3h-1zM289 168h1v1h-1zM530 168h1v1h-1zM541 175h1v1h-1zM781 280h1v1h-1zM4 305h1v1h-1zM671 201h1v3h-1zM282 157h1v2h-1zM504 158h1v1h-1zM605 234h1v2h-1zM714 234h1v2h-1zM818 343h1v2h-1zM848 344h1v4h-1zM159 358h1v2h-1zM175 359h1v1h-1zM242 359h1v1h-1zM300 189h1v3h-1zM308 191h1v2h-1zM566 190h1v2h-1zM466 101h1v2h-1zM439 121h1v2h-1zM448 109h1v1h-1zM634 211h1v2h-1zM667 212h1v1h-1zM700 212h1v1h-1zM776 273h1v1h-1zM820 347h1v1h-1zM798 289h1v2h-1zM865 289h1v2h-1zM819 345h1v2h-1zM696 209h1v1h-1zM712 231h1v1h-1zM769 261h1v2h-1zM922 260h1v2h-1zM446 112h1v1h-1zM472 112h1v1h-1zM122 373h1v1h-1zM544 178h1v1h-1zM923 262h1v1h-1zM429 140h1v2h-1zM243 358h1v1h-1zM119 374h1v1h-1zM121 374h1v1h-1zM653 211h1v1h-1zM15 317h1v1h-1zM97 317h1v1h-1zM339 90h1v4h-1zM456 100h1v1h-1zM354 77h1v1h-1zM368 77h1v2h-1zM312 187h1v1h-1zM649 208h1v1h-1zM695 208h1v1h-1zM866 288h1v1h-1zM297 183h1v2h-1zM316 183h1v2h-1zM408 184h1v1h-1zM310 189h1v1h-1zM565 189h1v1h-1zM304 200h1v2h-1zM572 200h1v2h-1zM690 201h1v2h-1zM784 282h1v1h-1zM441 118h1v1h-1zM491 118h1v1h-1zM355 76h1v1h-1zM367 76h1v1h-1zM880 254h1v1h-1zM298 185h1v2h-1zM917 255h1v1h-1zM531 169h1v1h-1zM770 263h1v1h-1zM924 263h1v1h-1zM468 105h1v1h-1zM443 116h1v1h-1zM775 271h1v2h-1zM373 91h1v4h-1zM309 190h1v1h-1zM409 183h1v1h-1zM338 94h1v4h-1zM353 78h1v1h-1zM567 192h1v1h-1zM453 102h1v1h-1zM777 274h1v2h-1zM343 84h1v1h-1zM371 84h1v3h-1zM452 103h1v1h-1zM357 74h1v1h-1zM365 74h1v1h-1zM460 96h1v1h-1zM459 97h1v1h-1zM344 83h1v1h-1zM370 82h1v2h-1zM313 186h1v1h-1zM561 186h1v1h-1zM792 283h1v1h-1zM342 85h1v1h-1zM920 258h1v1h-1zM345 82h1v1h-1zM341 86h1v1h-1z" fill="#0000ff" shape-rendering="crispEdges"/>
<g shape-rendering="crispEdges">
<rect x="4" y="37" width="1162" height="2" fill="#ff0000"/>
<rect x="3" y="35" width="6" height="6" fill="#ff0000"/>
<rect x="5" y="37" width="2" height="2" fill="#ffffff"/>
<rect x="1160" y="35" width="6" height="6" fill="#ff0000"/>
<rect x="1162" y="37" width="2" height="2" fill="#ffffff"/>
<rect x="4" y="138" width="1162" height="2" fill="#ff0000"/>
<rect x="3" y="136" width="6" height="6" fill="#ff0000"/>
<rect x="5" y="138" width="2" height="2" fill="#ffffff"/>
<rect x="1160" y="136" width="6" height="6" fill="#ff0000"/>
<rect x="1162" y="138" width="2" height="2" fill="#ffffff"/>
<rect x="4" y="240" width="1162" height="2" fill="#00ff00"/>
<rect x="3" y="238" width="6" height="6" fill="#00ff00"/>
<rect x="5" y="240" width="2" height="2" fill="#ffffff"/>
<rect x="1160" y="238" width="6" height="6" fill="#00ff00"/>
<rect x="1162" y="240" width="2" height="2" fill="#ffffff"/>
<rect x="4" y="360" width="1162" height="2" fill="#0000ff"/>
<rect x="3" y="358" width="6" height="6" fill="#0000ff"/>
<rect x="5" y="360" width="2" height="2" fill="#ffffff"/>
<rect x="1160" y="358" width="6" height="6" fill="#0000ff"/>
<rect x="1162" y="360" width="2" height="2" fill="#ffffff"/>
<rect x="4" y="302" width="1" height="20" fill="#32cd32"/>
<rect x="4" y="305" width="2" height="8" fill="#32cd32"/>
<rect x="8" y="300" width="1" height="18" fill="#32cd32"/>
<rect x="7" y="310" width="3" height="7" fill="#32cd32"/>
<rect x="12" y="309" width="1" height="26" fill="#32cd32"/>
<rect x="11" y="315" width="3" height="13" fill="#32cd32"/>
<rect x="16" y="325" width="1" height="7" fill="#32cd32"/>
<rect x="15" y="326" width="3" height="6" fill="#32cd32"/>
<rect x="20" y="328" width="1" height="19" fill="#32cd32"/>
<rect x="19" y="329" width="3" height="10" fill="#32cd32"/>
<rect x="24" y="312" width="1" height="29" fill="#ff0000"/>
<rect x="23" y="327" width="3" height="12" fill="#ff0000"/>
<rect x="28" y="304" width="1" height="25" fill="#ff0000"/>
<rect x="27" y="309" width="3" height="20" fill="#ff0000"/>
<rect x="32" y="307" width="1" height="17" fill="#32cd32"/>
<rect x="31" y="309" width="3" height="10" fill="#32cd32"/>
<rect x="36" y="296" width="1" height="25" fill="#ff0000"/>
<rect x="35" y="311" width="3" height="8" fill="#ff0000"/>
<rect x="40" y="308" width="1" height="6" fill="#32cd32"/>
<rect x="39" y="311" width="3" height="2" fill="#32cd32"/>
<rect x="44" y="305" width="1" height="25" fill="#32cd32"/>
<rect x="43" y="311" width="3" height="8" fill="#32cd32"/>
<rect x="48" y="310" width="1" height="20" fill="#ff0000"/>
<rect x="47" y="316" width="3" height="4" fill="#ff0000"/>
<rect x="52" y="310" width="1" height="19" fill="#ff0000"/>
<rect x="51" y="315" width="3" height="4" fill="#ff0000"/>
<rect x="56" y="311" width="1" height="12" fill="#32cd32"/>
<rect x="55" y="315" width="3" height="7" fill="#32cd32"/>
<rect x="60" y="282" width="1" height="41" fill="#ff0000"/>
<rect x="59" y="301" width="3" height="21" fill="#ff0000"/>
<rect x="64" y="299" width="1" height="7" fill="#ff0000"/>
<rect x="63" y="299" width="3" height="4" fill="#ff0000"/>
<rect x="68" y="284" width="1" height="21" fill="#32cd32"/>
<rect x="67" y="302" width="3" height="2" fill="#32cd32"/>
<rect x="72" y="295" width="1" height="28" fill="#32cd32"/>
<rect x="71" y="302" width="3" height="17" fill="#32cd32"/>
<rect x="76" y="309" width="1" height="20" fill="#ff0000"/>
<rect x="75" y="314" width="3" height="5" fill="#ff0000"/>
<rect x="80" y="309" width="1" height="12" fill="#ff0000"/>
<rect x="79" y="311" width="3" height="4" fill="#ff0000"/>
<rect x="84" y="306" width="1" height="11" fill="#ff0000"/>
<rect x="83" y="308" width="3" height="6" fill="#ff0000"/>
<rect x="88" y="306" width="1" height="5" fill="#32cd32"/>
<rect x="87" y="308" width="3" height="2" fill="#32cd32"/>
<rect x="92" y="308" width="1" height="9" fill="#ff0000"/>
<rect x="91" y="311" width="3" height="4" fill="#ff0000"/>
<rect x="96" y="304" width="1" height="44" fill="#32cd32"/>
<rect x="95" y="311" width="3" height="28" fill="#32cd32"/>
<rect x="100" y="333" width="1" height="19" fill="#32cd32"/>
<rect x="99" y="338" width="3" height="3" fill="#32cd32"/>
<rect x="104" y="336" width="1" height="62" fill="#32cd32"/>
<rect x="103" y="339" width="3" height="49" fill="#32cd32"/>
<rect x="108" y="364" width="1" height="46" fill="#ff0000"/>
<rect x="107" y="373" width="3" height="15" fill="#ff0000"/>
<rect x="112" y="373" width="1" height="8" fill="#32cd32"/>
<rect x="111" y="373" width="3" height="8" fill="#32cd32"/>
<rect x="116" y="358" width="1" height="30" fill="#ff0000"/>
<rect x="115" y="371" width="3" height="17" fill="#ff0000"/>
<rect x="120" y="358" width="1" height="27" fill="#ff0000"/>
<rect x="119" y="366" width="3" height="6" fill="#ff0000"/>
<rect x="124" y="352" width="1" height="28" fill="#ff0000"/>
<rect x="123" y="363" width="3" height="5" fill="#ff0000"/>
<rect x="128" y="356" width="1" height="18" fill="#32cd32"/>
<rect x="127" y="363" width="3" height="6" fill="#32cd32"/>
<rect x="132" y="365" width="1" height="20" fill="#32cd32"/>
<rect x="131" y="368" width="3" height="6" fill="#32cd32"/>
<rect x="136" y="372" width="1" height="3" fill="#32cd32"/>
<rect x="135" y="372" width="3" height="3" fill="#32cd32"/>
<rect x="140" y="380" width="1" height="33" fill="#ff0000"/>
<rect x="139" y="381" width="3" height="24" fill="#ff0000"/>
<rect x="144" y="356" width="1" height="40" fill="#ff0000"/>
<rect x="143" y="360" width="3" height="23" fill="#ff0000"/>
<rect x="148" y="343" width="1" height="22" fill="#ff0000"/>
<rect x="147" y="359" width="3" height="3" fill="#ff0000"/>
<rect x="152" y="358" width="1" height="17" fill="#32cd32"/>
<rect x="151" y="359" width="3" height="12" fill="#32cd32"/>
<rect x="156" y="344" width="1" height="30" fill="#ff0000"/>
<rect x="155" y="346" width="3" height="25" fill="#ff0000"/>
<rect x="160" y="345" width="1" height="6" fill="#32cd32"/>
<rect x="159" y="346" width="3" height="4" fill="#32cd32"/>
<rect x="164" y="345" width="1" height="17" fill="#32cd32"/>
<rect x="163" y="348" width="3" height="9" fill="#32cd32"/>
<rect x="168" y="347" width="1" height="16" fill="#ff0000"/>
<rect x="167" y="351" width="3" height="5" fill="#ff0000"/>
<rect x="172" y="348" width="1" height="24" fill="#32cd32"/>
<rect x="171" y="350" width="3" height="22" fill="#32cd32"/>
<rect x="176" y="366" width="1" height="19" fill="#32cd32"/>
<rect x="175" y="371" width="3" height="2" fill="#32cd32"/>
<rect x="180" y="358" width="1" height="16" fill="#ff0000"/>
<rect x="179" y="362" width="3" height="12" fill="#ff0000"/>
<rect x="184" y="362" width="1" height="5" fill="#32cd32"/>
<rect x="183" y="363" width="3" height="4" fill="#32cd32"/>
<rect x="188" y="358" width="1" height="17" fill="#32cd32"/>
<rect x="187" y="363" width="3" height="8" fill="#32cd32"/>
<rect x="192" y="363" width="1" height="13" fill="#ff0000"/>
<rect x="191" y="364" width="3" height="7" fill="#ff0000"/>
<rect x="196" y="360" width="1" height="12" fill="#32cd32"/>
<rect x="195" y="364" width="3" height="7" fill="#32cd32"/>
<rect x="200" y="357" width="1" height="16" fill="#ff0000"/>
<rect x="199" y="361" width="3" height="11" fill="#ff0000"/>
<rect x="204" y="361" width="1" height="15" fill="#ff0000"/>
<rect x="203" y="361" width="3" height="2" fill="#ff0000"/>
<rect x="208" y="358" width="1" height="7" fill="#32cd32"/>
<rect x="207" y="360" width="3" height="4" fill="#32cd32"/>
<rect x="212" y="360" width="1" height="10" fill="#ff0000"/>
<rect x="211" y="361" width="3" height="7" fill="#ff0000"/>
<rect x="216" y="358" width="1" height="10" fill="#ff0000"/>
<rect x="215" y="359" width="3" height="4" fill="#ff0000"/>
<rect x="220" y="357" width="1" height="17" fill="#32cd32"/>
<rect x="219" y="359" width="3" height="14" fill="#32cd32"/>
<rect x="224" y="366" width="1" height="11" fill="#32cd32"/>
<rect x="223" y="371" width="3" height="5" fill="#32cd32"/>
<rect x="228" y="361" width="1" height="16" fill="#ff0000"/>
<rect x="227" y="362" width="3" height="14" fill="#ff0000"/>
<rect x="232" y="361" width="1" height="2" fill="#32cd32"/>
<rect x="231" y="361" width="3" height="2" fill="#32cd32"/>
<rect x="236" y="344" width="1" height="23" fill="#ff0000"/>
<rect x="235" y="351" width="3" height="13" fill="#ff0000"/>
<rect x="240" y="349" width="1" height="14" fill="#32cd32"/>
<rect x="239" y="351" width="3" height="4" fill="#32cd32"/>
<rect x="244" y="348" width="1" height="13" fill="#32cd32"/>
<rect x="243" y="353" width="3" height="2" fill="#32cd32"/>
<rect x="248" y="326" width="1" height="31" fill="#ff0000"/>
<rect x="247" y="338" width="3" height="17" fill="#ff0000"/>
<rect x="252" y="265" width="1" height="77" fill="#ff0000"/>
<rect x="251" y="273" width="3" height="67" fill="#ff0000"/>
<rect x="256" y="263" width="1" height="12" fill="#ff0000"/>
<rect x="255" y="265" width="3" height="9" fill="#ff0000"/>
<rect x="260" y="132" width="1" height="135" fill="#ff0000"/>
<rect x="259" y="148" width="3" height="118" fill="#ff0000"/>
<rect x="264" y="100" width="1" height="102" fill="#32cd32"/>
<rect x="263" y="147" width="3" height="41" fill="#32cd32"/>
<rect x="268" y="144" width="1" height="48" fill="#ff0000"/>
<rect x="267" y="155" width="3" height="33" fill="#ff0000"/>
<rect x="272" y="139" width="1" height="42" fill="#32cd32"/>
<rect x="271" y="155" width="3" height="22" fill="#32cd32"/>
<rect x="276" y="141" width="1" height="36" fill="#ff0000"/>
<rect x="275" y="142" width="3" height="35" fill="#ff0000"/>
<rect x="280" y="133" width="1" height="15" fill="#32cd32"/>
<rect x="279" y="143" width="3" height="5" fill="#32cd32"/>
<rect x="284" y="127" width="1" height="19" fill="#32cd32"/>
<rect x="283" y="138" width="3" height="7" fill="#32cd32"/>
<rect x="288" y="134" width="1" height="119" fill="#32cd32"/>
<rect x="287" y="143" width="3" height="85" fill="#32cd32"/>
<rect x="292" y="190" width="1" height="40" fill="#ff0000"/>
<rect x="291" y="190" width="3" height="39" fill="#ff0000"/>
<rect x="296" y="176" width="1" height="37" fill="#32cd32"/>
<rect x="295" y="190" width="3" height="5" fill="#32cd32"/>
<rect x="300" y="183" width="1" height="18" fill="#32cd32"/>
<rect x="299" y="192" width="3" height="3" fill="#32cd32"/>
<rect x="304" y="192" width="1" height="9" fill="#32cd32"/>
<rect x="303" y="193" width="3" height="6" fill="#32cd32"/>
<rect x="308" y="179" width="1" height="22" fill="#ff0000"/>
<rect x="307" y="179" width="3" height="22" fill="#ff0000"/>
<rect x="312" y="165" width="1" height="16" fill="#ff0000"/>
<rect x="311" y="170" width="3" height="10" fill="#ff0000"/>
<rect x="316" y="168" width="1" height="20" fill="#32cd32"/>
<rect x="315" y="170" width="3" height="9" fill="#32cd32"/>
<rect x="320" y="141" width="1" height="39" fill="#ff0000"/>
<rect x="319" y="150" width="3" height="30" fill="#ff0000"/>
<rect x="324" y="111" width="1" height="40" fill="#ff0000"/>
<rect x="323" y="113" width="3" height="38" fill="#ff0000"/>
<rect x="328" y="102" width="1" height="17" fill="#ff0000"/>
<rect x="327" y="105" width="3" height="10" fill="#ff0000"/>
<rect x="332" y="66" width="1" height="41" fill="#ff0000"/>
<rect x="331" y="70" width="3" height="37" fill="#ff0000"/>
<rect x="336" y="59" width="1" height="31" fill="#32cd32"/>
<rect x="335" y="70" width="3" height="8" fill="#32cd32"/>
<rect x="340" y="64" width="1" height="23" fill="#ff0000"/>
<rect x="339" y="72" width="3" height="6" fill="#ff0000"/>
<rect x="344" y="62" width="1" height="39" fill="#32cd32"/>
<rect x="343" y="72" width="3" height="22" fill="#32cd32"/>
<rect x="348" y="79" width="1" height="22" fill="#ff0000"/>
<rect x="347" y="80" width="3" height="14" fill="#ff0000"/>
<rect x="352" y="71" width="1" height="11" fill="#ff0000"/>
<rect x="351" y="76" width="3" height="6" fill="#ff0000"/>
<rect x="356" y="51" width="1" height="27" fill="#ff0000"/>
<rect x="355" y="53" width="3" height="25" fill="#ff0000"/>
<rect x="360" y="44" width="1" height="20" fill="#32cd32"/>
<rect x="359" y="53" width="3" height="8" fill="#32cd32"/>
<rect x="364" y="58" width="1" height="39" fill="#32cd32"/>
<rect x="363" y="59" width="3" height="37" fill="#32cd32"/>
<rect x="368" y="90" width="1" height="30" fill="#32cd32"/>
<rect x="367" y="94" width="3" height="9" fill="#32cd32"/>
<rect x="372" y="89" width="1" height="49" fill="#32cd32"/>
<rect x="371" y="101" width="3" height="29" fill="#32cd32"/>
<rect x="376" y="121" width="1" height="25" fill="#32cd32"/>
<rect x="375" y="128" width="3" height="11" fill="#32cd32"/>
<rect x="380" y="108" width="1" height="25" fill="#ff0000"/>
<rect x="379" y="122" width="3" height="11" fill="#ff0000"/>
<rect x="384" y="118" width="1" height="25" fill="#32cd32"/>
<rect x="383" y="124" width="3" height="9" fill="#32cd32"/>
<rect x="388" y="121" width="1" height="14" fill="#ff0000"/>
<rect x="387" y="129" width="3" height="5" fill="#ff0000"/>
<rect x="392" y="129" width="1" height="63" fill="#32cd32"/>
<rect x="391" y="130" width="3" height="48" fill="#32cd32"/>
<rect x="396" y="171" width="1" height="40" fill="#32cd32"/>
<rect x="395" y="178" width="3" height="33" fill="#32cd32"/>
<rect x="400" y="198" width="1" height="13" fill="#ff0000"/>
<rect x="399" y="199" width="3" height="12" fill="#ff0000"/>
<rect x="404" y="171" width="1" height="30" fill="#ff0000"/>
<rect x="403" y="177" width="3" height="24" fill="#ff0000"/>
<rect x="408" y="144" width="1" height="39" fill="#ff0000"/>
<rect x="407" y="155" width="3" height="22" fill="#ff0000"/>
<rect x="412" y="153" width="1" height="13" fill="#32cd32"/>
<rect x="411" y="155" width="3" height="9" fill="#32cd32"/>
<rect x="416" y="138" width="1" height="33" fill="#ff0000"/>
<rect x="415" y="143" width="3" height="24" fill="#ff0000"/>
<rect x="420" y="138" width="1" height="19" fill="#32cd32"/>
<rect x="419" y="143" width="3" height="12" fill="#32cd32"/>
<rect x="424" y="110" width="1" height="46" fill="#ff0000"/>
<rect x="423" y="125" width="3" height="30" fill="#ff0000"/>
<rect x="428" y="115" width="1" height="27" fill="#ff0000"/>
<rect x="427" y="124" width="3" height="18" fill="#ff0000"/>
<rect x="432" y="122" width="1" height="21" fill="#32cd32"/>
<rect x="431" y="124" width="3" height="4" fill="#32cd32"/>
<rect x="436" y="106" width="1" height="33" fill="#ff0000"/>
<rect x="435" y="109" width="3" height="18" fill="#ff0000"/>
<rect x="440" y="106" width="1" height="20" fill="#32cd32"/>
<rect x="439" y="109" width="3" height="4" fill="#32cd32"/>
<rect x="444" y="90" width="1" height="38" fill="#ff0000"/>
<rect x="443" y="105" width="3" height="8" fill="#ff0000"/>
<rect x="448" y="92" width="1" height="15" fill="#ff0000"/>
<rect x="447" y="94" width="3" height="12" fill="#ff0000"/>
<rect x="452" y="90" width="1" height="33" fill="#32cd32"/>
<rect x="451" y="94" width="3" height="4" fill="#32cd32"/>
<rect x="456" y="84" width="1" height="23" fill="#ff0000"/>
<rect x="455" y="92" width="3" height="6" fill="#ff0000"/>
<rect x="460" y="82" width="1" height="15" fill="#32cd32"/>
<rect x="459" y="92" width="3" height="3" fill="#32cd32"/>
<rect x="464" y="90" width="1" height="28" fill="#32cd32"/>
<rect x="463" y="92" width="3" height="20" fill="#32cd32"/>
<rect x="468" y="110" width="1" height="24" fill="#32cd32"/>
<rect x="467" y="111" width="3" height="19" fill="#32cd32"/>
<rect x="472" y="126" width="1" height="9" fill="#32cd32"/>
<rect x="471" y="128" width="3" height="7" fill="#32cd32"/>
<rect x="476" y="101" width="1" height="17" fill="#ff0000"/>
<rect x="475" y="110" width="3" height="6" fill="#ff0000"/>
<rect x="480" y="84" width="1" height="39" fill="#ff0000"/>
<rect x="479" y="87" width="3" height="26" fill="#ff0000"/>
<rect x="484" y="73" width="1" height="43" fill="#32cd32"/>
<rect x="483" y="88" width="3" height="14" fill="#32cd32"/>
<rect x="488" y="72" width="1" height="71" fill="#32cd32"/>
<rect x="487" y="101" width="3" height="39" fill="#32cd32"/>
<rect x="492" y="126" width="1" height="39" fill="#32cd32"/>
<rect x="491" y="126" width="3" height="35" fill="#32cd32"/>
<rect x="496" y="151" width="1" height="18" fill="#32cd32"/>
<rect x="495" y="160" width="3" height="7" fill="#32cd32"/>
<rect x="500" y="149" width="1" height="44" fill="#32cd32"/>
<rect x="499" y="165" width="3" height="9" fill="#32cd32"/>
<rect x="504" y="153" width="1" height="28" fill="#ff0000"/>
<rect x="503" y="156" width="3" height="18" fill="#ff0000"/>
<rect x="508" y="129" width="1" height="33" fill="#ff0000"/>
<rect x="507" y="144" width="3" height="15" fill="#ff0000"/>
<rect x="512" y="133" width="1" height="42" fill="#32cd32"/>
<rect x="511" y="144" width="3" height="17" fill="#32cd32"/>
<rect x="516" y="153" width="1" height="18" fill="#32cd32"/>
<rect x="515" y="160" width="3" height="4" fill="#32cd32"/>
<rect x="520" y="151" width="1" height="19" fill="#32cd32"/>
<rect x="519" y="162" width="3" height="8" fill="#32cd32"/>
<rect x="524" y="168" width="1" height="12" fill="#32cd32"/>
<rect x="523" y="170" width="3" height="3" fill="#32cd32"/>
<rect x="528" y="159" width="1" height="16" fill="#ff0000"/>
<rect x="527" y="167" width="3" height="6" fill="#ff0000"/>
<rect x="532" y="155" width="1" height="24" fill="#32cd32"/>
<rect x="531" y="167" width="3" height="11" fill="#32cd32"/>
<rect x="536" y="168" width="1" height="23" fill="#ff0000"/>
<rect x="535" y="172" width="3" height="8" fill="#ff0000"/>
<rect x="540" y="167" width="1" height="23" fill="#32cd32"/>
<rect x="539" y="173" width="3" height="12" fill="#32cd32"/>
<rect x="544" y="182" width="1" height="11" fill="#32cd32"/>
<rect x="543" y="183" width="3" height="8" fill="#32cd32"/>
<rect x="548" y="176" width="1" height="18" fill="#ff0000"/>
<rect x="547" y="179" width="3" height="15" fill="#ff0000"/>
<rect x="552" y="175" width="1" height="16" fill="#ff0000"/>
<rect x="551" y="178" width="3" height="3" fill="#ff0000"/>
<rect x="556" y="172" width="1" height="17" fill="#32cd32"/>
<rect x="555" y="178" width="3" height="6" fill="#32cd32"/>
<rect x="560" y="184" width="1" height="30" fill="#32cd32"/>
<rect x="559" y="186" width="3" height="13" fill="#32cd32"/>
<rect x="564" y="197" width="1" height="10" fill="#32cd32"/>
<rect x="563" y="197" width="3" height="9" fill="#32cd32"/>
<rect x="568" y="199" width="1" height="8" fill="#ff0000"/>
<rect x="567" y="200" width="3" height="6" fill="#ff0000"/>
<rect x="572" y="202" width="1" height="19" fill="#32cd32"/>
<rect x="571" y="206" width="3" height="10" fill="#32cd32"/>
<rect x="576" y="207" width="1" height="50" fill="#32cd32"/>
<rect x="575" y="214" width="3" height="28" fill="#32cd32"/>
<rect x="580" y="235" width="1" height="16" fill="#32cd32"/>
<rect x="579" y="241" width="3" height="4" fill="#32cd32"/>
<rect x="584" y="223" width="1" height="56" fill="#32cd32"/>
<rect x="583" y="244" width="3" height="25" fill="#32cd32"/>
<rect x="588" y="240" width="1" height="53" fill="#ff0000"/>
<rect x="587" y="250" width="3" height="19" fill="#ff0000"/>
<rect x="592" y="246" width="1" height="9" fill="#32cd32"/>
<rect x="591" y="249" width="3" height="4" fill="#32cd32"/>
<rect x="596" y="229" width="1" height="27" fill="#ff0000"/>
<rect x="595" y="231" width="3" height="24" fill="#ff0000"/>
<rect x="600" y="229" width="1" height="22" fill="#ff0000"/>
<rect x="599" y="230" width="3" height="3" fill="#ff0000"/>
<rect x="604" y="211" width="1" height="22" fill="#ff0000"/>
<rect x="603" y="216" width="3" height="16" fill="#ff0000"/>
<rect x="608" y="205" width="1" height="22" fill="#ff0000"/>
<rect x="607" y="215" width="3" height="3" fill="#ff0000"/>
<rect x="612" y="213" width="1" height="29" fill="#32cd32"/>
<rect x="611" y="215" width="3" height="27" fill="#32cd32"/>
<rect x="616" y="234" width="1" height="9" fill="#ff0000"/>
<rect x="615" y="239" width="3" height="3" fill="#ff0000"/>
<rect x="620" y="210" width="1" height="25" fill="#ff0000"/>
<rect x="619" y="217" width="3" height="16" fill="#ff0000"/>
<rect x="624" y="210" width="1" height="13" fill="#ff0000"/>
<rect x="623" y="213" width="3" height="5" fill="#ff0000"/>
<rect x="628" y="199" width="1" height="22" fill="#ff0000"/>
<rect x="627" y="204" width="3" height="10" fill="#ff0000"/>
<rect x="632" y="188" width="1" height="26" fill="#32cd32"/>
<rect x="631" y="204" width="3" height="6" fill="#32cd32"/>
<rect x="636" y="193" width="1" height="26" fill="#ff0000"/>
<rect x="635" y="195" width="3" height="16" fill="#ff0000"/>
<rect x="640" y="194" width="1" height="7" fill="#32cd32"/>
<rect x="639" y="196" width="3" height="5" fill="#32cd32"/>
<rect x="644" y="199" width="1" height="18" fill="#32cd32"/>
<rect x="643" y="199" width="3" height="13" fill="#32cd32"/>
<rect x="648" y="200" width="1" height="25" fill="#32cd32"/>
<rect x="647" y="210" width="3" height="11" fill="#32cd32"/>
<rect x="652" y="215" width="1" height="20" fill="#32cd32"/>
<rect x="651" y="221" width="3" height="4" fill="#32cd32"/>
<rect x="656" y="209" width="1" height="22" fill="#ff0000"/>
<rect x="655" y="211" width="3" height="14" fill="#ff0000"/>
<rect x="660" y="205" width="1" height="17" fill="#32cd32"/>
<rect x="659" y="209" width="3" height="4" fill="#32cd32"/>
<rect x="664" y="209" width="1" height="4" fill="#ff0000"/>
<rect x="663" y="209" width="3" height="4" fill="#ff0000"/>
<rect x="668" y="197" width="1" height="20" fill="#ff0000"/>
<rect x="667" y="198" width="3" height="15" fill="#ff0000"/>
<rect x="672" y="154" width="1" height="53" fill="#ff0000"/>
<rect x="671" y="166" width="3" height="33" fill="#ff0000"/>
<rect x="676" y="160" width="1" height="35" fill="#32cd32"/>
<rect x="675" y="165" width="3" height="29" fill="#32cd32"/>
<rect x="680" y="183" width="1" height="22" fill="#32cd32"/>
<rect x="679" y="193" width="3" height="8" fill="#32cd32"/>
<rect x="684" y="192" width="1" height="28" fill="#32cd32"/>
<rect x="683" y="199" width="3" height="12" fill="#32cd32"/>
<rect x="688" y="208" width="1" height="14" fill="#32cd32"/>
<rect x="687" y="209" width="3" height="12" fill="#32cd32"/>
<rect x="692" y="200" width="1" height="16" fill="#ff0000"/>
<rect x="691" y="204" width="3" height="11" fill="#ff0000"/>
<rect x="696" y="201" width="1" height="16" fill="#32cd32"/>
<rect x="695" y="206" width="3" height="8" fill="#32cd32"/>
<rect x="700" y="201" width="1" height="17" fill="#ff0000"/>
<rect x="699" y="208" width="3" height="5" fill="#ff0000"/>
<rect x="704" y="201" width="1" height="83" fill="#32cd32"/>
<rect x="703" y="209" width="3" height="56" fill="#32cd32"/>
<rect x="708" y="222" width="1" height="102" fill="#ff0000"/>
<rect x="707" y="229" width="3" height="36" fill="#ff0000"/>
<rect x="712" y="217" width="1" height="25" fill="#32cd32"/>
<rect x="711" y="228" width="3" height="13" fill="#32cd32"/>
<rect x="716" y="234" width="1" height="24" fill="#32cd32"/>
<rect x="715" y="241" width="3" height="13" fill="#32cd32"/>
<rect x="720" y="236" width="1" height="20" fill="#ff0000"/>
<rect x="719" y="251" width="3" height="3" fill="#ff0000"/>
<rect x="724" y="235" width="1" height="19" fill="#ff0000"/>
<rect x="723" y="241" width="3" height="12" fill="#ff0000"/>
<rect x="728" y="236" width="1" height="18" fill="#ff0000"/>
<rect x="727" y="240" width="3" height="3" fill="#ff0000"/>
<rect x="732" y="230" width="1" height="19" fill="#32cd32"/>
<rect x="731" y="240" width="3" height="5" fill="#32cd32"/>
<rect x="736" y="239" width="1" height="7" fill="#ff0000"/>
<rect x="735" y="242" width="3" height="3" fill="#ff0000"/>
<rect x="740" y="229" width="1" height="17" fill="#ff0000"/>
<rect x="739" y="232" width="3" height="12" fill="#ff0000"/>
<rect x="744" y="229" width="1" height="11" fill="#32cd32"/>
<rect x="743" y="234" width="3" height="4" fill="#32cd32"/>
<rect x="748" y="237" width="1" height="7" fill="#32cd32"/>
<rect x="747" y="237" width="3" height="6" fill="#32cd32"/>
<rect x="752" y="241" width="1" height="17" fill="#32cd32"/>
<rect x="751" y="250" width="3" height="4" fill="#32cd32"/>
<rect x="756" y="244" width="1" height="11" fill="#ff0000"/>
<rect x="755" y="249" width="3" height="5" fill="#ff0000"/>
<rect x="760" y="248" width="1" height="6" fill="#32cd32"/>
<rect x="759" y="249" width="3" height="4" fill="#32cd32"/>
<rect x="764" y="250" width="1" height="20" fill="#32cd32"/>
<rect x="763" y="250" width="3" height="17" fill="#32cd32"/>
<rect x="768" y="258" width="1" height="28" fill="#32cd32"/>
<rect x="767" y="265" width="3" height="15" fill="#32cd32"/>
<rect x="772" y="277" width="1" height="11" fill="#32cd32"/>
<rect x="771" y="279" width="3" height="8" fill="#32cd32"/>
<rect x="776" y="271" width="1" height="17" fill="#32cd32"/>
<rect x="775" y="279" width="3" height="5" fill="#32cd32"/>
<rect x="780" y="268" width="1" height="20" fill="#ff0000"/>
<rect x="779" y="280" width="3" height="4" fill="#ff0000"/>
<rect x="784" y="277" width="1" height="7" fill="#ff0000"/>
<rect x="783" y="279" width="3" height="3" fill="#ff0000"/>
<rect x="788" y="265" width="1" height="17" fill="#ff0000"/>
<rect x="787" y="273" width="3" height="6" fill="#ff0000"/>
<rect x="792" y="270" width="1" height="46" fill="#32cd32"/>
<rect x="791" y="273" width="3" height="28" fill="#32cd32"/>
<rect x="796" y="279" width="1" height="32" fill="#ff0000"/>
<rect x="795" y="300" width="3" height="2" fill="#ff0000"/>
<rect x="800" y="299" width="1" height="29" fill="#32cd32"/>
<rect x="799" y="300" width="3" height="17" fill="#32cd32"/>
<rect x="804" y="315" width="1" height="18" fill="#32cd32"/>
<rect x="803" y="316" width="3" height="16" fill="#32cd32"/>
<rect x="808" y="327" width="1" height="9" fill="#32cd32"/>
<rect x="807" y="330" width="3" height="5" fill="#32cd32"/>
<rect x="812" y="327" width="1" height="30" fill="#32cd32"/>
<rect x="811" y="331" width="3" height="26" fill="#32cd32"/>
<rect x="816" y="354" width="1" height="25" fill="#32cd32"/>
<rect x="815" y="356" width="3" height="6" fill="#32cd32"/>
<rect x="820" y="338" width="1" height="30" fill="#ff0000"/>
<rect x="819" y="354" width="3" height="8" fill="#ff0000"/>
<rect x="824" y="349" width="1" height="24" fill="#32cd32"/>
<rect x="823" y="354" width="3" height="16" fill="#32cd32"/>
<rect x="828" y="363" width="1" height="24" fill="#32cd32"/>
<rect x="827" y="369" width="3" height="13" fill="#32cd32"/>
<rect x="832" y="378" width="1" height="7" fill="#ff0000"/>
<rect x="831" y="379" width="3" height="4" fill="#ff0000"/>
<rect x="836" y="370" width="1" height="30" fill="#ff0000"/>
<rect x="835" y="375" width="3" height="3" fill="#ff0000"/>
<rect x="840" y="331" width="1" height="52" fill="#ff0000"/>
<rect x="839" y="337" width="3" height="40" fill="#ff0000"/>
<rect x="844" y="325" width="1" height="24" fill="#ff0000"/>
<rect x="843" y="332" width="3" height="7" fill="#ff0000"/>
<rect x="848" y="305" width="1" height="33" fill="#ff0000"/>
<rect x="847" y="305" width="3" height="28" fill="#ff0000"/>
<rect x="852" y="301" width="1" height="22" fill="#32cd32"/>
<rect x="851" y="305" width="3" height="8" fill="#32cd32"/>
<rect x="856" y="305" width="1" height="9" fill="#ff0000"/>
<rect x="855" y="310" width="3" height="3" fill="#ff0000"/>
<rect x="860" y="252" width="1" height="42" fill="#ff0000"/>
<rect x="859" y="257" width="3" height="28" fill="#ff0000"/>
<rect x="864" y="254" width="1" height="24" fill="#32cd32"/>
<rect x="863" y="257" width="3" height="16" fill="#32cd32"/>
<rect x="868" y="268" width="1" height="23" fill="#32cd32"/>
<rect x="867" y="271" width="3" height="6" fill="#32cd32"/>
<rect x="872" y="239" width="1" height="41" fill="#ff0000"/>
<rect x="871" y="241" width="3" height="36" fill="#ff0000"/>
<rect x="876" y="240" width="1" height="33" fill="#ff0000"/>
<rect x="875" y="241" width="3" height="2" fill="#ff0000"/>
<rect x="880" y="236" width="1" height="12" fill="#32cd32"/>
<rect x="879" y="241" width="3" height="4" fill="#32cd32"/>
<rect x="884" y="219" width="1" height="41" fill="#ff0000"/>
<rect x="883" y="226" width="3" height="25" fill="#ff0000"/>
<rect x="888" y="219" width="1" height="38" fill="#32cd32"/>
<rect x="887" y="226" width="3" height="28" fill="#32cd32"/>
<rect x="892" y="232" width="1" height="50" fill="#32cd32"/>
<rect x="891" y="252" width="3" height="21" fill="#32cd32"/>
<rect x="896" y="262" width="1" height="25" fill="#ff0000"/>
<rect x="895" y="266" width="3" height="7" fill="#ff0000"/>
<rect x="900" y="233" width="1" height="40" fill="#ff0000"/>
<rect x="899" y="239" width="3" height="29" fill="#ff0000"/>
<rect x="904" y="232" width="1" height="10" fill="#ff0000"/>
<rect x="903" y="233" width="3" height="8" fill="#ff0000"/>
<rect x="908" y="232" width="1" height="35" fill="#32cd32"/>
<rect x="907" y="233" width="3" height="23" fill="#32cd32"/>
<rect x="912" y="251" width="1" height="31" fill="#32cd32"/>
<rect x="911" y="253" width="3" height="23" fill="#32cd32"/>
<rect x="916" y="266" width="1" height="21" fill="#ff0000"/>
<rect x="915" y="269" width="3" height="7" fill="#ff0000"/>
<rect x="920" y="251" width="1" height="24" fill="#ff0000"/>
<rect x="919" y="260" width="3" height="11" fill="#ff0000"/>
<rect x="924" y="252" width="1" height="12" fill="#ff0000"/>
<rect x="923" y="258" width="3" height="4" fill="#ff0000"/>
</g>
<polygon points="7,35 14,35 10.5,31" fill="#000"/>
<text x="18.75" y="36" font-family="'Liberation Sans', Arial, sans-serif" font-size="10.2" fill="#000" textLength="65.77" lengthAdjust="spacingAndGlyphs" stroke="#000" stroke-width="0.2">USDCNH,Daily</text>
<text x="90.53" y="36" font-family="'Liberation Sans', Arial, sans-serif" font-size="10.2" fill="#000" textLength="142.36" lengthAdjust="spacingAndGlyphs" stroke="#000" stroke-width="0.2">6.98082&#160;6.99008&#160;6.97890&#160;6.98375</text>
<g shape-rendering="crispEdges">
<rect x="1167" y="55" width="2" height="1" fill="#000"/>
<rect x="1167" y="88" width="2" height="1" fill="#000"/>
<rect x="1167" y="121" width="2" height="1" fill="#000"/>
<rect x="1167" y="154" width="2" height="1" fill="#000"/>
<rect x="1167" y="187" width="2" height="1" fill="#000"/>
<rect x="1167" y="220" width="2" height="1" fill="#000"/>
<rect x="1167" y="286" width="2" height="1" fill="#000"/>
<rect x="1167" y="319" width="2" height="1" fill="#000"/>
<rect x="1167" y="352" width="2" height="1" fill="#000"/>
<rect x="1167" y="385" width="2" height="1" fill="#000"/>
<rect x="1167" y="418" width="2" height="1" fill="#000"/>
</g>
<text x="1171.62" y="59" font-family="'Liberation Sans', Arial, sans-serif" font-size="10.2" fill="#000" textLength="33.55" lengthAdjust="spacingAndGlyphs" stroke="#000" stroke-width="0.2">7.18335</text>
<text x="1171.62" y="92" font-family="'Liberation Sans', Arial, sans-serif" font-size="10.2" fill="#000" textLength="33.55" lengthAdjust="spacingAndGlyphs" stroke="#000" stroke-width="0.2">7.15105</text>
<text x="1171.62" y="125" font-family="'Liberation Sans', Arial, sans-serif" font-size="10.2" fill="#000" textLength="33.55" lengthAdjust="spacingAndGlyphs" stroke="#000" stroke-width="0.2">7.11875</text>
<text x="1171.62" y="158" font-family="'Liberation Sans', Arial, sans-serif" font-size="10.2" fill="#000" textLength="33.55" lengthAdjust="spacingAndGlyphs" stroke="#000" stroke-width="0.2">7.08645</text>
<text x="1171.62" y="191" font-family="'Liberation Sans', Arial, sans-serif" font-size="10.2" fill="#000" textLength="33.55" lengthAdjust="spacingAndGlyphs" stroke="#000" stroke-width="0.2">7.05320</text>
<text x="1171.62" y="224" font-family="'Liberation Sans', Arial, sans-serif" font-size="10.2" fill="#000" textLength="33.55" lengthAdjust="spacingAndGlyphs" stroke="#000" stroke-width="0.2">7.02090</text>
<text x="1171.63" y="257" font-family="'Liberation Sans', Arial, sans-serif" font-size="10.2" fill="#000" textLength="33.55" lengthAdjust="spacingAndGlyphs" stroke="#000" stroke-width="0.2">6.98860</text>
<text x="1171.63" y="290" font-family="'Liberation Sans', Arial, sans-serif" font-size="10.2" fill="#000" textLength="33.55" lengthAdjust="spacingAndGlyphs" stroke="#000" stroke-width="0.2">6.95630</text>
<text x="1171.63" y="323" font-family="'Liberation Sans', Arial, sans-serif" font-size="10.2" fill="#000" textLength="33.55" lengthAdjust="spacingAndGlyphs" stroke="#000" stroke-width="0.2">6.92305</text>
<text x="1171.63" y="356" font-family="'Liberation Sans', Arial, sans-serif" font-size="10.2" fill="#000" textLength="33.55" lengthAdjust="spacingAndGlyphs" stroke="#000" stroke-width="0.2">6.89075</text>
<text x="1171.63" y="389" font-family="'Liberation Sans', Arial, sans-serif" font-size="10.2" fill="#000" textLength="33.55" lengthAdjust="spacingAndGlyphs" stroke="#000" stroke-width="0.2">6.85845</text>
<text x="1171.63" y="422" font-family="'Liberation Sans', Arial, sans-serif" font-size="10.2" fill="#000" textLength="33.55" lengthAdjust="spacingAndGlyphs" stroke="#000" stroke-width="0.2">6.82615</text>
<rect x="1168" y="32" width="41" height="11" fill="#ff0000" shape-rendering="crispEdges"/>
<text x="1171.72" y="41" font-family="'Liberation Sans', Arial, sans-serif" font-size="10.2" fill="#fff" textLength="33.55" lengthAdjust="spacingAndGlyphs" stroke="#fff" stroke-width="0.25">7.20001</text>
<rect x="1168" y="133" width="41" height="11" fill="#ff0000" shape-rendering="crispEdges"/>
<text x="1171.72" y="142" font-family="'Liberation Sans', Arial, sans-serif" font-size="10.2" fill="#fff" textLength="33.55" lengthAdjust="spacingAndGlyphs" stroke="#fff" stroke-width="0.25">7.10067</text>
<rect x="1168" y="235" width="41" height="11" fill="#00ff00" shape-rendering="crispEdges"/>
<text x="1171.72" y="244" font-family="'Liberation Sans', Arial, sans-serif" font-size="10.2" fill="#fff" textLength="33.55" lengthAdjust="spacingAndGlyphs" stroke="#fff" stroke-width="0.25">7.00035</text>
<rect x="1168" y="355" width="41" height="11" fill="#0000ff" shape-rendering="crispEdges"/>
<text x="1171.73" y="364" font-family="'Liberation Sans', Arial, sans-serif" font-size="10.2" fill="#fff" textLength="33.55" lengthAdjust="spacingAndGlyphs" stroke="#fff" stroke-width="0.25">6.88197</text>
<rect x="1168" y="254" width="41" height="10" fill="#000" shape-rendering="crispEdges"/>
<text x="1171.63" y="262" font-family="'Liberation Sans', Arial, sans-serif" font-size="10.2" fill="#fff" textLength="33.55" lengthAdjust="spacingAndGlyphs" stroke="#fff" stroke-width="0.25">6.98375</text>
<g shape-rendering="crispEdges">
<rect x="3" y="423" width="1164" height="1" fill="#000"/>
<rect x="3" y="491" width="1164" height="1" fill="#000"/>
<rect x="3" y="423" width="1" height="69" fill="#000"/>
<rect x="1166" y="423" width="1" height="69" fill="#000"/>
<rect x="4" y="427" width="2" height="38" fill="#c0c0c0"/>
<rect x="7" y="428" width="3" height="37" fill="#c0c0c0"/>
<rect x="11" y="430" width="3" height="35" fill="#c0c0c0"/>
<rect x="15" y="431" width="3" height="34" fill="#c0c0c0"/>
<rect x="19" y="433" width="3" height="32" fill="#c0c0c0"/>
<rect x="23" y="435" width="3" height="30" fill="#c0c0c0"/>
<rect x="27" y="436" width="3" height="29" fill="#c0c0c0"/>
<rect x="31" y="437" width="3" height="28" fill="#c0c0c0"/>
<rect x="35" y="438" width="3" height="27" fill="#c0c0c0"/>
<rect x="39" y="439" width="3" height="26" fill="#c0c0c0"/>
<rect x="43" y="440" width="3" height="25" fill="#c0c0c0"/>
<rect x="47" y="442" width="3" height="23" fill="#c0c0c0"/>
<rect x="51" y="443" width="3" height="22" fill="#c0c0c0"/>
<rect x="55" y="445" width="3" height="20" fill="#c0c0c0"/>
<rect x="59" y="445" width="3" height="20" fill="#c0c0c0"/>
<rect x="63" y="445" width="3" height="20" fill="#c0c0c0"/>
<rect x="67" y="446" width="3" height="19" fill="#c0c0c0"/>
<rect x="71" y="448" width="3" height="17" fill="#c0c0c0"/>
<rect x="75" y="449" width="3" height="16" fill="#c0c0c0"/>
<rect x="79" y="450" width="3" height="15" fill="#c0c0c0"/>
<rect x="83" y="451" width="3" height="14" fill="#c0c0c0"/>
<rect x="87" y="452" width="3" height="13" fill="#c0c0c0"/>
<rect x="91" y="453" width="3" height="12" fill="#c0c0c0"/>
<rect x="95" y="455" width="3" height="10" fill="#c0c0c0"/>
<rect x="99" y="457" width="3" height="8" fill="#c0c0c0"/>
<rect x="103" y="461" width="3" height="4" fill="#c0c0c0"/>
<rect x="107" y="463" width="3" height="2" fill="#c0c0c0"/>
<rect x="111" y="465" width="3" height="2" fill="#c0c0c0"/>
<rect x="115" y="465" width="3" height="3" fill="#c0c0c0"/>
<rect x="119" y="465" width="3" height="4" fill="#c0c0c0"/>
<rect x="123" y="465" width="3" height="4" fill="#c0c0c0"/>
<rect x="127" y="465" width="3" height="5" fill="#c0c0c0"/>
<rect x="131" y="465" width="3" height="5" fill="#c0c0c0"/>
<rect x="135" y="465" width="3" height="6" fill="#c0c0c0"/>
<rect x="139" y="465" width="3" height="7" fill="#c0c0c0"/>
<rect x="143" y="465" width="3" height="6" fill="#c0c0c0"/>
<rect x="147" y="465" width="3" height="6" fill="#c0c0c0"/>
<rect x="151" y="465" width="3" height="6" fill="#c0c0c0"/>
<rect x="155" y="465" width="3" height="4" fill="#c0c0c0"/>
<rect x="159" y="465" width="3" height="4" fill="#c0c0c0"/>
<rect x="163" y="465" width="3" height="3" fill="#c0c0c0"/>
<rect x="167" y="465" width="3" height="3" fill="#c0c0c0"/>
<rect x="171" y="465" width="3" height="3" fill="#c0c0c0"/>
<rect x="175" y="465" width="3" height="4" fill="#c0c0c0"/>
<rect x="179" y="465" width="3" height="4" fill="#c0c0c0"/>
<rect x="183" y="465" width="3" height="4" fill="#c0c0c0"/>
<rect x="187" y="465" width="3" height="4" fill="#c0c0c0"/>
<rect x="191" y="465" width="3" height="4" fill="#c0c0c0"/>
<rect x="195" y="465" width="3" height="4" fill="#c0c0c0"/>
<rect x="199" y="465" width="3" height="3" fill="#c0c0c0"/>
<rect x="203" y="465" width="3" height="3" fill="#c0c0c0"/>
<rect x="207" y="465" width="3" height="3" fill="#c0c0c0"/>
<rect x="211" y="465" width="3" height="3" fill="#c0c0c0"/>
<rect x="215" y="465" width="3" height="2" fill="#c0c0c0"/>
<rect x="219" y="465" width="3" height="3" fill="#c0c0c0"/>
<rect x="223" y="465" width="3" height="3" fill="#c0c0c0"/>
<rect x="227" y="465" width="3" height="3" fill="#c0c0c0"/>
<rect x="231" y="465" width="3" height="3" fill="#c0c0c0"/>
<rect x="235" y="465" width="3" height="2" fill="#c0c0c0"/>
<rect x="247" y="464" width="3" height="1" fill="#c0c0c0"/>
<rect x="251" y="460" width="3" height="5" fill="#c0c0c0"/>
<rect x="255" y="456" width="3" height="9" fill="#c0c0c0"/>
<rect x="259" y="448" width="3" height="17" fill="#c0c0c0"/>
<rect x="263" y="443" width="3" height="22" fill="#c0c0c0"/>
<rect x="267" y="438" width="3" height="27" fill="#c0c0c0"/>
<rect x="271" y="435" width="3" height="30" fill="#c0c0c0"/>
<rect x="275" y="432" width="3" height="33" fill="#c0c0c0"/>
<rect x="279" y="430" width="3" height="35" fill="#c0c0c0"/>
<rect x="283" y="429" width="3" height="36" fill="#c0c0c0"/>
<rect x="287" y="432" width="3" height="33" fill="#c0c0c0"/>
<rect x="291" y="434" width="3" height="31" fill="#c0c0c0"/>
<rect x="295" y="435" width="3" height="30" fill="#c0c0c0"/>
<rect x="299" y="437" width="3" height="28" fill="#c0c0c0"/>
<rect x="303" y="439" width="3" height="26" fill="#c0c0c0"/>
<rect x="307" y="439" width="3" height="26" fill="#c0c0c0"/>
<rect x="311" y="440" width="3" height="25" fill="#c0c0c0"/>
<rect x="315" y="441" width="3" height="24" fill="#c0c0c0"/>
<rect x="319" y="440" width="3" height="25" fill="#c0c0c0"/>
<rect x="323" y="439" width="3" height="26" fill="#c0c0c0"/>
<rect x="327" y="437" width="3" height="28" fill="#c0c0c0"/>
<rect x="331" y="434" width="3" height="31" fill="#c0c0c0"/>
<rect x="335" y="433" width="3" height="32" fill="#c0c0c0"/>
<rect x="339" y="432" width="3" height="33" fill="#c0c0c0"/>
<rect x="343" y="433" width="3" height="32" fill="#c0c0c0"/>
<rect x="347" y="433" width="3" height="32" fill="#c0c0c0"/>
<rect x="351" y="433" width="3" height="32" fill="#c0c0c0"/>
<rect x="355" y="433" width="3" height="32" fill="#c0c0c0"/>
<rect x="359" y="433" width="3" height="32" fill="#c0c0c0"/>
<rect x="363" y="435" width="3" height="30" fill="#c0c0c0"/>
<rect x="367" y="438" width="3" height="27" fill="#c0c0c0"/>
<rect x="371" y="442" width="3" height="23" fill="#c0c0c0"/>
<rect x="375" y="445" width="3" height="20" fill="#c0c0c0"/>
<rect x="379" y="448" width="3" height="17" fill="#c0c0c0"/>
<rect x="383" y="450" width="3" height="15" fill="#c0c0c0"/>
<rect x="387" y="452" width="3" height="13" fill="#c0c0c0"/>
<rect x="391" y="456" width="3" height="9" fill="#c0c0c0"/>
<rect x="395" y="461" width="3" height="4" fill="#c0c0c0"/>
<rect x="399" y="464" width="3" height="1" fill="#c0c0c0"/>
<rect x="403" y="465" width="3" height="2" fill="#c0c0c0"/>
<rect x="407" y="465" width="3" height="2" fill="#c0c0c0"/>
<rect x="411" y="465" width="3" height="3" fill="#c0c0c0"/>
<rect x="415" y="465" width="3" height="2" fill="#c0c0c0"/>
<rect x="419" y="465" width="3" height="2" fill="#c0c0c0"/>
<rect x="427" y="463" width="3" height="2" fill="#c0c0c0"/>
<rect x="431" y="463" width="3" height="2" fill="#c0c0c0"/>
<rect x="435" y="461" width="3" height="4" fill="#c0c0c0"/>
<rect x="439" y="460" width="3" height="5" fill="#c0c0c0"/>
<rect x="443" y="459" width="3" height="6" fill="#c0c0c0"/>
<rect x="447" y="458" width="3" height="7" fill="#c0c0c0"/>
<rect x="451" y="457" width="3" height="8" fill="#c0c0c0"/>
<rect x="455" y="456" width="3" height="9" fill="#c0c0c0"/>
<rect x="459" y="456" width="3" height="9" fill="#c0c0c0"/>
<rect x="463" y="457" width="3" height="8" fill="#c0c0c0"/>
<rect x="467" y="458" width="3" height="7" fill="#c0c0c0"/>
<rect x="471" y="460" width="3" height="5" fill="#c0c0c0"/>
<rect x="475" y="460" width="3" height="5" fill="#c0c0c0"/>
<rect x="479" y="459" width="3" height="6" fill="#c0c0c0"/>
<rect x="483" y="458" width="3" height="7" fill="#c0c0c0"/>
<rect x="487" y="460" width="3" height="5" fill="#c0c0c0"/>
<rect x="491" y="463" width="3" height="2" fill="#c0c0c0"/>
<rect x="495" y="465" width="3" height="2" fill="#c0c0c0"/>
<rect x="499" y="465" width="3" height="4" fill="#c0c0c0"/>
<rect x="503" y="465" width="3" height="5" fill="#c0c0c0"/>
<rect x="507" y="465" width="3" height="5" fill="#c0c0c0"/>
<rect x="511" y="465" width="3" height="5" fill="#c0c0c0"/>
<rect x="515" y="465" width="3" height="6" fill="#c0c0c0"/>
<rect x="519" y="465" width="3" height="7" fill="#c0c0c0"/>
<rect x="523" y="465" width="3" height="8" fill="#c0c0c0"/>
<rect x="527" y="465" width="3" height="8" fill="#c0c0c0"/>
<rect x="531" y="465" width="3" height="9" fill="#c0c0c0"/>
<rect x="535" y="465" width="3" height="9" fill="#c0c0c0"/>
<rect x="539" y="465" width="3" height="9" fill="#c0c0c0"/>
<rect x="543" y="465" width="3" height="10" fill="#c0c0c0"/>
<rect x="547" y="465" width="3" height="10" fill="#c0c0c0"/>
<rect x="551" y="465" width="3" height="10" fill="#c0c0c0"/>
<rect x="555" y="465" width="3" height="10" fill="#c0c0c0"/>
<rect x="559" y="465" width="3" height="10" fill="#c0c0c0"/>
<rect x="563" y="465" width="3" height="11" fill="#c0c0c0"/>
<rect x="567" y="465" width="3" height="11" fill="#c0c0c0"/>
<rect x="571" y="465" width="3" height="12" fill="#c0c0c0"/>
<rect x="575" y="465" width="3" height="14" fill="#c0c0c0"/>
<rect x="579" y="465" width="3" height="15" fill="#c0c0c0"/>
<rect x="583" y="465" width="3" height="18" fill="#c0c0c0"/>
<rect x="587" y="465" width="3" height="18" fill="#c0c0c0"/>
<rect x="591" y="465" width="3" height="19" fill="#c0c0c0"/>
<rect x="595" y="465" width="3" height="18" fill="#c0c0c0"/>
<rect x="599" y="465" width="3" height="17" fill="#c0c0c0"/>
<rect x="603" y="465" width="3" height="15" fill="#c0c0c0"/>
<rect x="607" y="465" width="3" height="13" fill="#c0c0c0"/>
<rect x="611" y="465" width="3" height="13" fill="#c0c0c0"/>
<rect x="615" y="465" width="3" height="13" fill="#c0c0c0"/>
<rect x="619" y="465" width="3" height="12" fill="#c0c0c0"/>
<rect x="623" y="465" width="3" height="10" fill="#c0c0c0"/>
<rect x="627" y="465" width="3" height="9" fill="#c0c0c0"/>
<rect x="631" y="465" width="3" height="7" fill="#c0c0c0"/>
<rect x="635" y="465" width="3" height="6" fill="#c0c0c0"/>
<rect x="639" y="465" width="3" height="5" fill="#c0c0c0"/>
<rect x="643" y="465" width="3" height="4" fill="#c0c0c0"/>
<rect x="647" y="465" width="3" height="4" fill="#c0c0c0"/>
<rect x="651" y="465" width="3" height="5" fill="#c0c0c0"/>
<rect x="655" y="465" width="3" height="4" fill="#c0c0c0"/>
<rect x="659" y="465" width="3" height="4" fill="#c0c0c0"/>
<rect x="663" y="465" width="3" height="3" fill="#c0c0c0"/>
<rect x="667" y="465" width="3" height="2" fill="#c0c0c0"/>
<rect x="671" y="464" width="3" height="1" fill="#c0c0c0"/>
<rect x="675" y="464" width="3" height="1" fill="#c0c0c0"/>
<rect x="679" y="464" width="3" height="1" fill="#c0c0c0"/>
<rect x="683" y="464" width="3" height="1" fill="#c0c0c0"/>
<rect x="703" y="465" width="3" height="4" fill="#c0c0c0"/>
<rect x="707" y="465" width="3" height="5" fill="#c0c0c0"/>
<rect x="711" y="465" width="3" height="6" fill="#c0c0c0"/>
<rect x="715" y="465" width="3" height="7" fill="#c0c0c0"/>
<rect x="719" y="465" width="3" height="8" fill="#c0c0c0"/>
<rect x="723" y="465" width="3" height="8" fill="#c0c0c0"/>
<rect x="727" y="465" width="3" height="8" fill="#c0c0c0"/>
<rect x="731" y="465" width="3" height="8" fill="#c0c0c0"/>
<rect x="735" y="465" width="3" height="8" fill="#c0c0c0"/>
<rect x="739" y="465" width="3" height="7" fill="#c0c0c0"/>
<rect x="743" y="465" width="3" height="7" fill="#c0c0c0"/>
<rect x="747" y="465" width="3" height="7" fill="#c0c0c0"/>
<rect x="751" y="465" width="3" height="7" fill="#c0c0c0"/>
<rect x="755" y="465" width="3" height="7" fill="#c0c0c0"/>
<rect x="759" y="465" width="3" height="7" fill="#c0c0c0"/>
<rect x="763" y="465" width="3" height="8" fill="#c0c0c0"/>
<rect x="767" y="465" width="3" height="9" fill="#c0c0c0"/>
<rect x="771" y="465" width="3" height="10" fill="#c0c0c0"/>
<rect x="775" y="465" width="3" height="11" fill="#c0c0c0"/>
<rect x="779" y="465" width="3" height="11" fill="#c0c0c0"/>
<rect x="783" y="465" width="3" height="11" fill="#c0c0c0"/>
<rect x="787" y="465" width="3" height="11" fill="#c0c0c0"/>
<rect x="791" y="465" width="3" height="12" fill="#c0c0c0"/>
<rect x="795" y="465" width="3" height="12" fill="#c0c0c0"/>
<rect x="799" y="465" width="3" height="14" fill="#c0c0c0"/>
<rect x="803" y="465" width="3" height="15" fill="#c0c0c0"/>
<rect x="807" y="465" width="3" height="16" fill="#c0c0c0"/>
<rect x="811" y="465" width="3" height="18" fill="#c0c0c0"/>
<rect x="815" y="465" width="3" height="20" fill="#c0c0c0"/>
<rect x="819" y="465" width="3" height="20" fill="#c0c0c0"/>
<rect x="823" y="465" width="3" height="22" fill="#c0c0c0"/>
<rect x="827" y="465" width="3" height="23" fill="#c0c0c0"/>
<rect x="831" y="465" width="3" height="23" fill="#c0c0c0"/>
<rect x="835" y="465" width="3" height="23" fill="#c0c0c0"/>
<rect x="839" y="465" width="3" height="21" fill="#c0c0c0"/>
<rect x="843" y="465" width="3" height="19" fill="#c0c0c0"/>
<rect x="847" y="465" width="3" height="16" fill="#c0c0c0"/>
<rect x="851" y="465" width="3" height="13" fill="#c0c0c0"/>
<rect x="855" y="465" width="3" height="11" fill="#c0c0c0"/>
<rect x="859" y="465" width="3" height="7" fill="#c0c0c0"/>
<rect x="863" y="465" width="3" height="4" fill="#c0c0c0"/>
<rect x="867" y="465" width="3" height="2" fill="#c0c0c0"/>
<rect x="871" y="463" width="3" height="2" fill="#c0c0c0"/>
<rect x="875" y="460" width="3" height="5" fill="#c0c0c0"/>
<rect x="879" y="458" width="3" height="7" fill="#c0c0c0"/>
<rect x="883" y="456" width="3" height="9" fill="#c0c0c0"/>
<rect x="887" y="456" width="3" height="9" fill="#c0c0c0"/>
<rect x="891" y="456" width="3" height="9" fill="#c0c0c0"/>
<rect x="895" y="457" width="3" height="8" fill="#c0c0c0"/>
<rect x="899" y="456" width="3" height="9" fill="#c0c0c0"/>
<rect x="903" y="455" width="3" height="10" fill="#c0c0c0"/>
<rect x="907" y="456" width="3" height="9" fill="#c0c0c0"/>
<rect x="911" y="457" width="3" height="8" fill="#c0c0c0"/>
<rect x="915" y="458" width="3" height="7" fill="#c0c0c0"/>
<rect x="919" y="458" width="3" height="7" fill="#c0c0c0"/>
<rect x="923" y="459" width="3" height="6" fill="#c0c0c0"/>
<rect x="1167" y="425" width="2" height="1" fill="#000"/>
<rect x="1167" y="465" width="2" height="1" fill="#000"/>
<rect x="1167" y="490" width="2" height="1" fill="#000"/>
</g>
<path d="M82 447h4v1h-4zM103 453h2v1h-2zM402 453h2v1h-2zM542 472h8v1h-8zM646 472h4v1h-4zM770 472h8v1h-8zM874 472h2v1h-2zM142 469h32v1h-32zM526 469h4v1h-4zM658 469h8v1h-8zM722 469h8v1h-8zM879 469h2v1h-2zM598 480h20v1h-20zM821 480h2v1h-2zM861 480h2v1h-2zM123 462h2v1h-2zM259 462h2v1h-2zM417 462h2v1h-2zM446 462h4v1h-4zM502 462h4v1h-4zM890 462h2v1h-2zM130 465h3v1h-3zM250 465h4v1h-4zM426 465h12v1h-12zM511 465h3v1h-3zM690 465h20v1h-20zM885 465h2v1h-2zM562 474h12v1h-12zM638 474h4v1h-4zM786 474h8v1h-8zM138 468h4v1h-4zM174 468h36v1h-36zM522 468h4v1h-4zM666 468h8v1h-8zM718 468h4v1h-4zM121 461h2v1h-2zM415 461h2v1h-2zM450 461h4v1h-4zM498 461h4v1h-4zM892 461h2v1h-2zM135 467h3v1h-3zM210 467h32v1h-32zM518 467h4v1h-4zM674 467h4v1h-4zM714 467h4v1h-4zM882 467h2v1h-2zM534 471h8v1h-8zM650 471h4v1h-4zM734 471h36v1h-36zM105 454h2v1h-2zM270 454h2v1h-2zM838 485h12v1h-12zM550 473h12v1h-12zM642 473h4v1h-4zM778 473h8v1h-8zM823 481h3v1h-3zM859 481h2v1h-2zM38 434h4v1h-4zM295 434h15v1h-15zM354 434h4v1h-4zM366 434h4v1h-4zM101 452h2v1h-2zM54 439h4v1h-4zM286 439h2v1h-2zM326 439h4v1h-4zM381 439h2v1h-2zM578 476h8v1h-8zM630 476h4v1h-4zM802 476h4v1h-4zM47 437h3v1h-3zM289 437h2v1h-2zM317 437h2v1h-2zM338 437h8v1h-8zM377 437h2v1h-2zM119 460h2v1h-2zM262 460h2v1h-2zM413 460h2v1h-2zM454 460h4v1h-4zM494 460h4v1h-4zM894 460h4v1h-4zM45 436h2v1h-2zM291 436h2v1h-2zM314 436h3v1h-3zM346 436h4v1h-4zM374 436h3v1h-3zM530 470h4v1h-4zM654 470h4v1h-4zM730 470h4v1h-4zM877 470h2v1h-2zM74 445h4v1h-4zM127 464h3v1h-3zM254 464h3v1h-3zM422 464h4v1h-4zM438 464h4v1h-4zM509 464h2v1h-2zM887 464h2v1h-2zM133 466h2v1h-2zM242 466h8v1h-8zM514 466h4v1h-4zM678 466h12v1h-12zM710 466h4v1h-4zM115 458h2v1h-2zM409 458h2v1h-2zM462 458h28v1h-28zM901 458h2v1h-2zM574 475h4v1h-4zM634 475h4v1h-4zM794 475h8v1h-8zM870 475h2v1h-2zM110 456h3v1h-3zM406 456h2v1h-2zM910 456h8v1h-8zM594 479h4v1h-4zM618 479h4v1h-4zM818 479h3v1h-3zM863 479h2v1h-2zM125 463h2v1h-2zM257 463h2v1h-2zM419 463h3v1h-3zM442 463h4v1h-4zM506 463h3v1h-3zM15 430h11v1h-11zM117 459h2v1h-2zM411 459h2v1h-2zM458 459h4v1h-4zM490 459h4v1h-4zM898 459h3v1h-3zM6 435h2v1h-2zM42 435h3v1h-3zM293 435h2v1h-2zM310 435h4v1h-4zM350 435h4v1h-4zM370 435h4v1h-4zM13 431h2v1h-2zM26 431h4v1h-4zM113 457h2v1h-2zM266 457h2v1h-2zM903 457h7v1h-7zM918 457h7v1h-7zM63 442h3v1h-3zM387 442h2v1h-2zM590 478h4v1h-4zM622 478h4v1h-4zM814 478h4v1h-4zM865 478h2v1h-2zM830 483h4v1h-4zM854 483h3v1h-3zM50 438h4v1h-4zM319 438h7v1h-7zM330 438h8v1h-8zM379 438h2v1h-2zM826 482h4v1h-4zM857 482h2v1h-2zM66 443h4v1h-4zM389 443h2v1h-2zM58 440h3v1h-3zM383 440h2v1h-2zM9 433h2v1h-2zM34 433h4v1h-4zM358 433h8v1h-8zM61 441h2v1h-2zM385 441h2v1h-2zM586 477h4v1h-4zM626 477h4v1h-4zM806 477h8v1h-8zM867 477h2v1h-2zM94 450h4v1h-4zM834 484h4v1h-4zM850 484h4v1h-4zM86 448h4v1h-4zM90 449h4v1h-4zM70 444h4v1h-4zM391 444h2v1h-2zM11 432h2v1h-2zM30 432h4v1h-4zM98 451h3v1h-3zM78 446h4v1h-4zM394 446h2v1h-2zM107 455h3v1h-3zM278 447h1v1h-1zM396 447h1v1h-1zM272 453h1v1h-1zM872 474h1v1h-1zM881 468h1v1h-1zM261 461h1v1h-1zM876 471h1v1h-1zM404 454h1v1h-1zM873 473h1v1h-1zM8 434h1v1h-1zM273 452h1v1h-1zM401 452h1v1h-1zM869 476h1v1h-1zM4 437h1v1h-1zM5 436h1v1h-1zM280 445h1v1h-1zM393 445h1v1h-1zM884 466h1v1h-1zM265 458h1v1h-1zM268 456h1v1h-1zM889 463h1v1h-1zM264 459h1v1h-1zM408 457h1v1h-1zM283 442h1v1h-1zM288 438h1v1h-1zM282 443h1v1h-1zM285 440h1v1h-1zM284 441h1v1h-1zM275 450h1v1h-1zM399 450h1v1h-1zM277 448h1v1h-1zM397 448h1v1h-1zM276 449h1v1h-1zM398 449h1v1h-1zM281 444h1v1h-1zM274 451h1v1h-1zM400 451h1v1h-1zM279 446h1v1h-1zM269 455h1v1h-1zM405 455h1v1h-1z" fill="#ff0000" shape-rendering="crispEdges"/>
<text x="7.83" y="436" font-family="'Liberation Sans', Arial, sans-serif" font-size="10.2" fill="#000" textLength="148.11" lengthAdjust="spacingAndGlyphs" stroke="#000" stroke-width="0.2">MACD(12,26,9)&#160;0.009996&#160;0.012909</text>
<text x="1169.54" y="434" font-family="'Liberation Sans', Arial, sans-serif" font-size="10.2" fill="#000" textLength="38.71" lengthAdjust="spacingAndGlyphs" stroke="#000" stroke-width="0.2">0.063113</text>
<text x="1169.94" y="469" font-family="'Liberation Sans', Arial, sans-serif" font-size="10.2" fill="#000" textLength="18.07" lengthAdjust="spacingAndGlyphs" stroke="#000" stroke-width="0.2">0.00</text>
<text x="1169.49" y="488" font-family="'Liberation Sans', Arial, sans-serif" font-size="10.2" fill="#000" textLength="41.81" lengthAdjust="spacingAndGlyphs" stroke="#000" stroke-width="0.2">-0.038872</text>
<g shape-rendering="crispEdges">
<rect x="3" y="493" width="1164" height="1" fill="#000"/>
<rect x="3" y="577" width="1164" height="1" fill="#000"/>
<rect x="3" y="493" width="1" height="85" fill="#000"/>
<rect x="1166" y="493" width="1" height="85" fill="#000"/>
<rect x="1167" y="494" width="2" height="1" fill="#000"/>
</g>
<line x1="5" y1="519.5" x2="1165" y2="519.5" stroke="#c0c0c0" stroke-dasharray="3,3" shape-rendering="crispEdges"/>
<line x1="5" y1="552.5" x2="1165" y2="552.5" stroke="#c0c0c0" stroke-dasharray="3,3" shape-rendering="crispEdges"/>
<path d="M119 541h3v1h-3zM125 541h2v1h-2zM172 541h5v1h-5zM221 541h2v1h-2zM512 541h6v1h-6zM711 541h2v1h-2zM722 541h2v1h-2zM730 541h4v1h-4zM755 541h3v1h-3zM842 541h3v1h-3zM158 534h3v1h-3zM167 534h2v1h-2zM372 534h2v1h-2zM377 534h2v1h-2zM382 534h7v1h-7zM639 534h2v1h-2zM678 534h3v1h-3zM848 534h3v1h-3zM917 534h2v1h-2zM98 538h3v1h-3zM182 538h3v1h-3zM190 538h2v1h-2zM193 538h2v1h-2zM620 538h2v1h-2zM645 538h2v1h-2zM739 538h3v1h-3zM161 535h2v1h-2zM165 535h2v1h-2zM214 535h3v1h-3zM228 535h2v1h-2zM374 535h3v1h-3zM414 535h2v1h-2zM417 535h2v1h-2zM626 535h2v1h-2zM629 535h2v1h-2zM851 535h6v1h-6zM914 535h3v1h-3zM163 536h2v1h-2zM200 536h6v1h-6zM210 536h4v1h-4zM230 536h3v1h-3zM408 536h2v1h-2zM419 536h2v1h-2zM468 536h2v1h-2zM631 536h2v1h-2zM642 536h2v1h-2zM656 536h2v1h-2zM662 536h3v1h-3zM682 536h2v1h-2zM699 536h2v1h-2zM912 536h2v1h-2zM15 519h2v1h-2zM23 519h2v1h-2zM30 519h2v1h-2zM34 519h7v1h-7zM60 519h5v1h-5zM324 519h5v1h-5zM359 519h2v1h-2zM274 515h2v1h-2zM277 515h2v1h-2zM282 515h3v1h-3zM19 521h2v1h-2zM43 521h10v1h-10zM67 521h2v1h-2zM345 521h2v1h-2zM27 517h2v1h-2zM330 517h2v1h-2zM334 517h7v1h-7zM117 542h2v1h-2zM127 542h3v1h-3zM223 542h2v1h-2zM518 542h4v1h-4zM526 542h3v1h-3zM535 542h2v1h-2zM548 542h6v1h-6zM713 542h2v1h-2zM750 542h2v1h-2zM753 542h2v1h-2zM758 542h3v1h-3zM840 542h2v1h-2zM17 520h2v1h-2zM21 520h2v1h-2zM32 520h2v1h-2zM41 520h2v1h-2zM65 520h2v1h-2zM347 520h6v1h-6zM55 523h2v1h-2zM872 523h6v1h-6zM53 522h2v1h-2zM882 522h2v1h-2zM114 544h2v1h-2zM134 544h4v1h-4zM399 544h2v1h-2zM494 544h4v1h-4zM531 544h2v1h-2zM538 544h2v1h-2zM596 544h5v1h-5zM96 537h2v1h-2zM144 537h5v1h-5zM180 537h2v1h-2zM198 537h2v1h-2zM206 537h4v1h-4zM410 537h3v1h-3zM470 537h3v1h-3zM622 537h3v1h-3zM658 537h4v1h-4zM694 537h2v1h-2zM697 537h2v1h-2zM130 543h4v1h-4zM492 543h2v1h-2zM522 543h4v1h-4zM529 543h2v1h-2zM533 543h2v1h-2zM554 543h3v1h-3zM715 543h6v1h-6zM560 547h2v1h-2zM565 547h2v1h-2zM779 547h6v1h-6zM72 527h2v1h-2zM292 527h10v1h-10zM305 527h2v1h-2zM364 527h2v1h-2zM446 527h4v1h-4zM454 527h7v1h-7zM900 527h2v1h-2zM588 551h5v1h-5zM792 551h5v1h-5zM288 529h2v1h-2zM436 529h2v1h-2zM441 529h2v1h-2zM866 529h3v1h-3zM78 525h12v1h-12zM310 525h4v1h-4zM860 525h2v1h-2zM290 528h2v1h-2zM302 528h3v1h-3zM366 528h3v1h-3zM443 528h3v1h-3zM450 528h4v1h-4zM864 528h2v1h-2zM236 531h2v1h-2zM424 531h6v1h-6zM74 526h4v1h-4zM90 526h3v1h-3zM307 526h3v1h-3zM314 526h3v1h-3zM902 526h3v1h-3zM108 545h2v1h-2zM138 545h3v1h-3zM397 545h2v1h-2zM498 545h3v1h-3zM540 545h2v1h-2zM612 545h5v1h-5zM786 545h2v1h-2zM150 539h2v1h-2zM185 539h2v1h-2zM195 539h2v1h-2zM506 539h2v1h-2zM606 539h3v1h-3zM647 539h3v1h-3zM686 539h2v1h-2zM737 539h2v1h-2zM742 539h4v1h-4zM122 540h3v1h-3zM187 540h2v1h-2zM510 540h2v1h-2zM604 540h2v1h-2zM650 540h3v1h-3zM708 540h3v1h-3zM724 540h6v1h-6zM734 540h3v1h-3zM746 540h3v1h-3zM10 516h2v1h-2zM279 516h3v1h-3zM332 516h2v1h-2zM434 530h2v1h-2zM438 530h3v1h-3zM238 532h4v1h-4zM430 532h3v1h-3zM894 532h3v1h-3zM922 532h3v1h-3zM5 513h2v1h-2zM252 513h2v1h-2zM264 513h3v1h-3zM110 546h3v1h-3zM542 546h3v1h-3zM567 546h2v1h-2zM13 518h2v1h-2zM25 518h2v1h-2zM354 518h2v1h-2zM357 518h2v1h-2zM770 550h4v1h-4zM156 533h2v1h-2zM242 533h3v1h-3zM379 533h3v1h-3zM637 533h2v1h-2zM676 533h2v1h-2zM892 533h2v1h-2zM919 533h3v1h-3zM582 557h2v1h-2zM804 557h5v1h-5zM562 548h3v1h-3zM766 548h2v1h-2zM777 548h2v1h-2zM812 560h2v1h-2zM825 560h2v1h-2zM830 560h3v1h-3zM7 514h2v1h-2zM814 561h3v1h-3zM827 561h3v1h-3zM798 553h2v1h-2zM576 554h2v1h-2zM254 512h3v1h-3zM267 512h2v1h-2zM104 549h2v1h-2zM768 549h2v1h-2zM774 549h3v1h-3zM318 524h2v1h-2zM878 524h3v1h-3zM578 555h3v1h-3zM810 559h2v1h-2zM823 559h2v1h-2zM833 559h2v1h-2zM821 558h2v1h-2zM835 558h2v1h-2zM802 556h2v1h-2zM101 540h1v3h-1zM142 541h1v2h-1zM225 540h1v2h-1zM392 541h1v2h-1zM403 541h1v1h-1zM490 541h1v1h-1zM504 541h1v1h-1zM603 541h1v1h-1zM609 540h1v2h-1zM618 541h1v2h-1zM702 541h1v3h-1zM707 541h1v2h-1zM749 541h1v1h-1zM95 533h1v3h-1zM155 534h1v2h-1zM234 533h1v2h-1zM416 534h1v1h-1zM422 533h1v2h-1zM466 534h1v1h-1zM474 534h1v2h-1zM486 534h1v2h-1zM628 534h1v1h-1zM634 534h1v1h-1zM666 534h1v1h-1zM856 534h1v1h-1zM910 533h1v2h-1zM144 538h1v1h-1zM149 538h1v1h-1zM153 538h1v2h-1zM170 537h1v2h-1zM179 538h1v1h-1zM197 538h1v1h-1zM218 537h1v2h-1zM226 538h1v2h-1zM390 537h1v2h-1zM406 538h1v1h-1zM488 538h1v2h-1zM508 538h1v1h-1zM654 538h1v1h-1zM685 538h1v1h-1zM690 537h1v2h-1zM696 538h1v1h-1zM701 538h1v3h-1zM846 537h1v2h-1zM169 535h1v2h-1zM233 535h1v1h-1zM389 535h1v2h-1zM421 535h1v1h-1zM467 535h1v1h-1zM633 535h1v1h-1zM641 535h1v1h-1zM665 535h1v1h-1zM681 535h1v1h-1zM692 535h1v1h-1zM847 535h1v2h-1zM911 535h1v1h-1zM96 536h1v1h-1zM154 536h1v2h-1zM217 536h1v1h-1zM227 536h1v2h-1zM413 536h1v1h-1zM473 536h1v1h-1zM487 536h1v2h-1zM625 536h1v1h-1zM691 536h1v1h-1zM693 536h1v1h-1zM250 518h1v4h-1zM285 517h1v4h-1zM342 519h1v2h-1zM353 519h1v1h-1zM9 515h1v1h-1zM251 515h1v3h-1zM270 514h1v2h-1zM58 521h1v1h-1zM286 521h1v4h-1zM322 521h1v1h-1zM343 521h1v1h-1zM361 520h1v2h-1zM884 521h1v1h-1zM12 517h1v1h-1zM272 517h1v1h-1zM356 517h1v1h-1zM402 542h1v1h-1zM491 542h1v1h-1zM503 542h1v1h-1zM602 542h1v1h-1zM610 542h1v1h-1zM721 542h1v1h-1zM59 520h1v1h-1zM323 520h1v1h-1zM69 522h1v2h-1zM249 522h1v3h-1zM320 523h1v1h-1zM362 522h1v2h-1zM881 523h1v1h-1zM885 522h1v2h-1zM57 522h1v1h-1zM321 522h1v1h-1zM344 522h1v1h-1zM102 543h1v3h-1zM141 543h1v2h-1zM394 544h1v1h-1zM501 544h1v1h-1zM546 544h1v1h-1zM557 544h1v1h-1zM611 543h1v2h-1zM617 543h1v2h-1zM703 544h1v3h-1zM706 543h1v2h-1zM762 544h1v1h-1zM788 544h1v1h-1zM840 543h1v2h-1zM258 508h1v2h-1zM262 508h1v3h-1zM192 537h1v1h-1zM407 537h1v1h-1zM644 537h1v1h-1zM655 537h1v1h-1zM684 537h1v1h-1zM700 537h1v1h-1zM116 543h1v1h-1zM393 543h1v1h-1zM401 543h1v1h-1zM502 543h1v1h-1zM537 543h1v1h-1zM547 543h1v1h-1zM601 543h1v1h-1zM752 543h1v1h-1zM761 543h1v1h-1zM103 546h1v3h-1zM106 547h1v2h-1zM569 547h1v1h-1zM594 547h1v2h-1zM704 547h1v2h-1zM765 547h1v1h-1zM790 547h1v2h-1zM839 545h1v4h-1zM92 527h1v1h-1zM247 527h1v2h-1zM287 525h1v4h-1zM480 527h1v1h-1zM671 526h1v2h-1zM673 526h1v2h-1zM859 526h1v3h-1zM863 527h1v1h-1zM869 527h1v2h-1zM887 526h1v2h-1zM905 527h1v1h-1zM573 551h1v1h-1zM838 549h1v4h-1zM93 528h1v3h-1zM246 529h1v2h-1zM369 529h1v2h-1zM462 529h1v2h-1zM478 529h1v2h-1zM482 529h1v1h-1zM670 528h1v2h-1zM674 528h1v2h-1zM858 529h1v2h-1zM888 528h1v2h-1zM898 529h1v2h-1zM906 528h1v2h-1zM71 525h1v2h-1zM248 525h1v2h-1zM317 525h1v1h-1zM363 524h1v2h-1zM672 524h1v2h-1zM871 524h1v2h-1zM886 524h1v2h-1zM461 528h1v1h-1zM479 528h1v1h-1zM481 528h1v1h-1zM899 528h1v1h-1zM94 531h1v2h-1zM245 531h1v2h-1zM370 531h1v1h-1zM433 531h1v1h-1zM463 531h1v1h-1zM477 531h1v1h-1zM484 531h1v1h-1zM669 530h1v2h-1zM675 530h1v2h-1zM857 531h1v3h-1zM890 531h1v1h-1zM897 531h1v1h-1zM908 531h1v1h-1zM364 526h1v1h-1zM862 526h1v1h-1zM870 526h1v1h-1zM113 545h1v1h-1zM395 545h1v1h-1zM545 545h1v1h-1zM558 545h1v1h-1zM595 545h1v2h-1zM705 545h1v2h-1zM763 545h1v1h-1zM789 545h1v2h-1zM100 539h1v1h-1zM143 539h1v2h-1zM171 539h1v2h-1zM178 539h1v1h-1zM189 539h1v1h-1zM219 539h1v1h-1zM391 539h1v2h-1zM405 539h1v1h-1zM509 539h1v1h-1zM619 539h1v2h-1zM653 539h1v1h-1zM689 539h1v1h-1zM708 539h1v1h-1zM845 539h1v2h-1zM152 540h1v1h-1zM177 540h1v1h-1zM220 540h1v1h-1zM404 540h1v1h-1zM489 540h1v1h-1zM505 540h1v1h-1zM688 540h1v1h-1zM259 506h1v2h-1zM261 506h1v2h-1zM271 516h1v1h-1zM273 516h1v1h-1zM284 516h1v1h-1zM288 530h1v1h-1zM483 530h1v1h-1zM889 530h1v1h-1zM907 530h1v1h-1zM235 532h1v1h-1zM371 532h1v2h-1zM423 532h1v1h-1zM464 532h1v1h-1zM476 532h1v1h-1zM485 532h1v2h-1zM636 532h1v1h-1zM668 532h1v1h-1zM676 532h1v1h-1zM891 532h1v1h-1zM909 532h1v1h-1zM269 513h1v1h-1zM107 546h1v1h-1zM396 546h1v1h-1zM559 546h1v1h-1zM764 546h1v1h-1zM785 546h1v1h-1zM29 518h1v1h-1zM329 518h1v1h-1zM341 518h1v1h-1zM104 550h1v1h-1zM572 550h1v1h-1zM593 549h1v2h-1zM791 549h1v2h-1zM465 533h1v1h-1zM475 533h1v1h-1zM635 533h1v1h-1zM667 533h1v1h-1zM848 533h1v1h-1zM585 556h1v2h-1zM820 557h1v1h-1zM836 557h1v1h-1zM570 548h1v1h-1zM817 560h1v1h-1zM252 514h1v1h-1zM264 514h1v1h-1zM276 514h1v1h-1zM575 553h1v1h-1zM587 552h1v2h-1zM837 553h1v4h-1zM586 554h1v2h-1zM800 554h1v1h-1zM4 512h1v1h-1zM263 511h1v2h-1zM571 549h1v1h-1zM70 524h1v1h-1zM860 524h1v1h-1zM801 555h1v1h-1zM818 559h1v1h-1zM584 558h1v1h-1zM809 558h1v1h-1zM819 558h1v1h-1zM581 556h1v1h-1zM257 510h1v2h-1zM574 552h1v1h-1zM797 552h1v1h-1zM260 504h1v2h-1z" fill="#1e90ff" shape-rendering="crispEdges"/>
<text x="7.54" y="506" font-family="'Liberation Sans', Arial, sans-serif" font-size="10.2" fill="#000" textLength="68.12" lengthAdjust="spacingAndGlyphs" stroke="#000" stroke-width="0.2">RSI(14)&#160;54.1670</text>
<text x="1169.89" y="504" font-family="'Liberation Sans', Arial, sans-serif" font-size="10.2" fill="#000" textLength="15.49" lengthAdjust="spacingAndGlyphs" stroke="#000" stroke-width="0.2">100</text>
<text x="1168.72" y="523" font-family="'Liberation Sans', Arial, sans-serif" font-size="10.2" fill="#000" textLength="10.32" lengthAdjust="spacingAndGlyphs" stroke="#000" stroke-width="0.2">70</text>
<text x="1168.85" y="556" font-family="'Liberation Sans', Arial, sans-serif" font-size="10.2" fill="#000" textLength="10.32" lengthAdjust="spacingAndGlyphs" stroke="#000" stroke-width="0.2">30</text>
<text x="1169.94" y="574" font-family="'Liberation Sans', Arial, sans-serif" font-size="10.2" fill="#000" textLength="5.16" lengthAdjust="spacingAndGlyphs" stroke="#000" stroke-width="0.2">0</text>
<g shape-rendering="crispEdges">
<rect x="4" y="578" width="1" height="3" fill="#000"/>
<rect x="68" y="578" width="1" height="3" fill="#000"/>
<rect x="132" y="578" width="1" height="3" fill="#000"/>
<rect x="196" y="578" width="1" height="3" fill="#000"/>
<rect x="260" y="578" width="1" height="3" fill="#000"/>
<rect x="324" y="578" width="1" height="3" fill="#000"/>
<rect x="388" y="578" width="1" height="3" fill="#000"/>
<rect x="452" y="578" width="1" height="3" fill="#000"/>
<rect x="516" y="578" width="1" height="3" fill="#000"/>
<rect x="580" y="578" width="1" height="3" fill="#000"/>
<rect x="644" y="578" width="1" height="3" fill="#000"/>
<rect x="708" y="578" width="1" height="3" fill="#000"/>
<rect x="772" y="578" width="1" height="3" fill="#000"/>
<rect x="836" y="578" width="1" height="3" fill="#000"/>
<rect x="900" y="578" width="1" height="3" fill="#000"/>
</g>
<text x="2.63" y="590" font-family="'Liberation Sans', Arial, sans-serif" font-size="10.2" fill="#000" textLength="54.26" lengthAdjust="spacingAndGlyphs" stroke="#000" stroke-width="0.2">22&#160;May&#160;2019</text>
<text x="66.39" y="590" font-family="'Liberation Sans', Arial, sans-serif" font-size="10.2" fill="#000" textLength="51.66" lengthAdjust="spacingAndGlyphs" stroke="#000" stroke-width="0.2">10&#160;Jun&#160;2019</text>
<text x="130.63" y="590" font-family="'Liberation Sans', Arial, sans-serif" font-size="10.2" fill="#000" textLength="51.66" lengthAdjust="spacingAndGlyphs" stroke="#000" stroke-width="0.2">28&#160;Jun&#160;2019</text>
<text x="194.39" y="590" font-family="'Liberation Sans', Arial, sans-serif" font-size="10.2" fill="#000" textLength="48.52" lengthAdjust="spacingAndGlyphs" stroke="#000" stroke-width="0.2">17&#160;Jul&#160;2019</text>
<text x="258.72" y="590" font-family="'Liberation Sans', Arial, sans-serif" font-size="10.2" fill="#000" textLength="48.01" lengthAdjust="spacingAndGlyphs" stroke="#000" stroke-width="0.2">5&#160;Aug&#160;2019</text>
<text x="322.63" y="590" font-family="'Liberation Sans', Arial, sans-serif" font-size="10.2" fill="#000" textLength="53.22" lengthAdjust="spacingAndGlyphs" stroke="#000" stroke-width="0.2">23&#160;Aug&#160;2019</text>
<text x="386.39" y="590" font-family="'Liberation Sans', Arial, sans-serif" font-size="10.2" fill="#000" textLength="53.22" lengthAdjust="spacingAndGlyphs" stroke="#000" stroke-width="0.2">11&#160;Sep&#160;2019</text>
<text x="450.74" y="590" font-family="'Liberation Sans', Arial, sans-serif" font-size="10.2" fill="#000" textLength="53.22" lengthAdjust="spacingAndGlyphs" stroke="#000" stroke-width="0.2">30&#160;Sep&#160;2019</text>
<text x="514.39" y="590" font-family="'Liberation Sans', Arial, sans-serif" font-size="10.2" fill="#000" textLength="51.13" lengthAdjust="spacingAndGlyphs" stroke="#000" stroke-width="0.2">18&#160;Oct&#160;2019</text>
<text x="578.62" y="590" font-family="'Liberation Sans', Arial, sans-serif" font-size="10.2" fill="#000" textLength="48.00" lengthAdjust="spacingAndGlyphs" stroke="#000" stroke-width="0.2">6&#160;Nov&#160;2019</text>
<text x="642.63" y="590" font-family="'Liberation Sans', Arial, sans-serif" font-size="10.2" fill="#000" textLength="53.22" lengthAdjust="spacingAndGlyphs" stroke="#000" stroke-width="0.2">25&#160;Nov&#160;2019</text>
<text x="706.39" y="590" font-family="'Liberation Sans', Arial, sans-serif" font-size="10.2" fill="#000" textLength="53.22" lengthAdjust="spacingAndGlyphs" stroke="#000" stroke-width="0.2">13&#160;Dec&#160;2019</text>
<text x="770.39" y="590" font-family="'Liberation Sans', Arial, sans-serif" font-size="10.2" fill="#000" textLength="46.44" lengthAdjust="spacingAndGlyphs" stroke="#000" stroke-width="0.2">1&#160;Jan&#160;2020</text>
<text x="834.63" y="590" font-family="'Liberation Sans', Arial, sans-serif" font-size="10.2" fill="#000" textLength="51.66" lengthAdjust="spacingAndGlyphs" stroke="#000" stroke-width="0.2">20&#160;Jan&#160;2020</text>
<text x="898.62" y="590" font-family="'Liberation Sans', Arial, sans-serif" font-size="10.2" fill="#000" textLength="47.48" lengthAdjust="spacingAndGlyphs" stroke="#000" stroke-width="0.2">7&#160;Feb&#160;2020</text>
<g shape-rendering="crispEdges">
<rect x="0" y="598" width="1209" height="1" fill="#e3e3e3"/>
<rect x="0" y="601" width="1209" height="19" fill="#f0f0f0"/>
<rect x="0" y="620" width="1209" height="1" fill="#fafafa"/>
<rect x="0" y="600" width="1209" height="1" fill="#000"/>
<rect x="0" y="601" width="1" height="18" fill="#5e5e5e"/>
<rect x="109" y="603" width="1" height="14" fill="#555"/>
<rect x="213" y="603" width="1" height="14" fill="#555"/>
<rect x="313" y="603" width="1" height="14" fill="#555"/>
<rect x="625" y="603" width="1" height="14" fill="#555"/>
<rect x="693" y="603" width="1" height="14" fill="#555"/>
<rect x="789" y="603" width="1" height="14" fill="#555"/>
<rect x="889" y="603" width="1" height="14" fill="#555"/>
<rect x="993" y="603" width="1" height="14" fill="#555"/>
<rect x="1085" y="603" width="1" height="14" fill="#555"/>
<rect x="418" y="600" width="102" height="18" fill="#ffffff"/>
<rect x="417" y="600" width="1" height="19" fill="#000"/>
<rect x="520" y="600" width="1" height="19" fill="#000"/>
<rect x="417" y="618" width="104" height="1" fill="#000"/>
</g>
<text x="16.42" y="615" font-family="'Liberation Sans', Arial, sans-serif" font-size="13.1" fill="#6a6a6a" textLength="80.40" lengthAdjust="spacingAndGlyphs">EURUSD,Daily</text>
<text x="119.78" y="615" font-family="'Liberation Sans', Arial, sans-serif" font-size="13.1" fill="#6a6a6a" textLength="82.15" lengthAdjust="spacingAndGlyphs">AUDUSD,Daily</text>
<text x="222.07" y="615" font-family="'Liberation Sans', Arial, sans-serif" font-size="13.1" fill="#6a6a6a" textLength="80.35" lengthAdjust="spacingAndGlyphs">USDCHF,Daily</text>
<text x="323.36" y="615" font-family="'Liberation Sans', Arial, sans-serif" font-size="13.1" fill="#6a6a6a" textLength="82.27" lengthAdjust="spacingAndGlyphs">USDCAD,Daily</text>
<text x="531.93" y="615" font-family="'Liberation Sans', Arial, sans-serif" font-size="13.1" fill="#6a6a6a" textLength="81.00" lengthAdjust="spacingAndGlyphs">XAUUSD,Daily</text>
<text x="634.40" y="615" font-family="'Liberation Sans', Arial, sans-serif" font-size="13.1" fill="#6a6a6a" textLength="47.66" lengthAdjust="spacingAndGlyphs">DJ30,H4</text>
<text x="704.54" y="615" font-family="'Liberation Sans', Arial, sans-serif" font-size="13.1" fill="#6a6a6a" textLength="72.48" lengthAdjust="spacingAndGlyphs">USDOil,Daily</text>
<text x="798.48" y="615" font-family="'Liberation Sans', Arial, sans-serif" font-size="13.1" fill="#6a6a6a" textLength="79.14" lengthAdjust="spacingAndGlyphs">USDCHF,Daily</text>
<text x="900.80" y="615" font-family="'Liberation Sans', Arial, sans-serif" font-size="13.1" fill="#6a6a6a" textLength="80.02" lengthAdjust="spacingAndGlyphs">GBPUSD,Daily</text>
<text x="1004.13" y="615" font-family="'Liberation Sans', Arial, sans-serif" font-size="13.1" fill="#6a6a6a" textLength="68.45" lengthAdjust="spacingAndGlyphs">EURUSD,H1</text>
<text x="1095.39" y="615" font-family="'Liberation Sans', Arial, sans-serif" font-size="13.1" fill="#6a6a6a" textLength="69.70" lengthAdjust="spacingAndGlyphs">GBPAUD,H1</text>
<text x="426.96" y="615" font-family="'Liberation Sans', Arial, sans-serif" font-size="13.1" fill="#000" textLength="82.36" lengthAdjust="spacingAndGlyphs">USDCNH,Daily</text>
<polygon points="1185,605 1185,613 1181,609" fill="#a0a0a0"/>
<polygon points="1201,605 1201,613 1205,609" fill="#000"/>
<g shape-rendering="crispEdges">
<path d="M7,44 H59 V68 H116 V108 H7 Z" fill="#00008c"/>
<path d="M8,45 H58 V69 H115 V107 H8 Z" fill="url(#tpg)"/>
<path d="M174,44 H226 V108 H118 V68 H174 Z" fill="#00008c"/>
<path d="M175,45 H225 V107 H119 V69 H175 Z" fill="url(#tpg)"/>
<rect x="11" y="67" width="44" height="1" fill="#10109a"/>
<rect x="11" y="68" width="44" height="1" fill="#8a8af8"/>
<rect x="178" y="67" width="44" height="1" fill="#10109a"/>
<rect x="178" y="68" width="44" height="1" fill="#8a8af8"/>
<rect x="61" y="44" width="111" height="22" fill="#a9a9a9"/>
<rect x="62" y="45" width="109" height="20" fill="#ffffff"/>
<rect x="62" y="45" width="21" height="20" fill="#b8b8b8"/>
<rect x="63" y="46" width="19" height="18" fill="url(#spg)"/>
<rect x="150" y="45" width="21" height="20" fill="#b8b8b8"/>
<rect x="151" y="46" width="19" height="18" fill="url(#spg)"/>
</g>
<polygon points="69,53 74,53 71.5,56" fill="#5a78c8"/>
<polygon points="158,56 163,56 160.5,53" fill="#5a78c8"/>
<text x="122.90" y="59" font-family="'Liberation Sans', Arial, sans-serif" font-size="13.0" fill="#000" textLength="24.18" lengthAdjust="spacingAndGlyphs">5.00</text>
<text x="19.11" y="60" font-family="'Liberation Sans', Arial, sans-serif" font-size="13.1" fill="#f4f4ff" textLength="26.24" lengthAdjust="spacingAndGlyphs">SELL</text>
<text x="186.82" y="60" font-family="'Liberation Sans', Arial, sans-serif" font-size="13.1" fill="#f4f4ff" textLength="24.65" lengthAdjust="spacingAndGlyphs">BUY</text>
<text x="26.64" y="99" font-family="'Liberation Sans', Arial, sans-serif" font-size="11.4" font-weight="bold" fill="#ffffff" textLength="24.65" lengthAdjust="spacingAndGlyphs">6.98</text>
<text x="136.64" y="99" font-family="'Liberation Sans', Arial, sans-serif" font-size="11.4" font-weight="bold" fill="#ffffff" textLength="24.65" lengthAdjust="spacingAndGlyphs">6.98</text>
<text x="54.91" y="99" font-family="'Liberation Sans', Arial, sans-serif" font-size="34.0" fill="#ffffff" textLength="34.76" lengthAdjust="spacingAndGlyphs" stroke="url(#tpg)" stroke-width="0.45">37</text>
<text x="166.23" y="99" font-family="'Liberation Sans', Arial, sans-serif" font-size="34.0" fill="#ffffff" textLength="35.27" lengthAdjust="spacingAndGlyphs" stroke="url(#tpg)" stroke-width="0.45">59</text>
<text x="94.43" y="83" font-family="'Liberation Sans', Arial, sans-serif" font-size="12.9" font-weight="bold" fill="#ffffff" textLength="6.71" lengthAdjust="spacingAndGlyphs">5</text>
<text x="204.50" y="83" font-family="'Liberation Sans', Arial, sans-serif" font-size="12.9" font-weight="bold" fill="#ffffff" textLength="7.82" lengthAdjust="spacingAndGlyphs">7</text>
</svg>
</body></html>
